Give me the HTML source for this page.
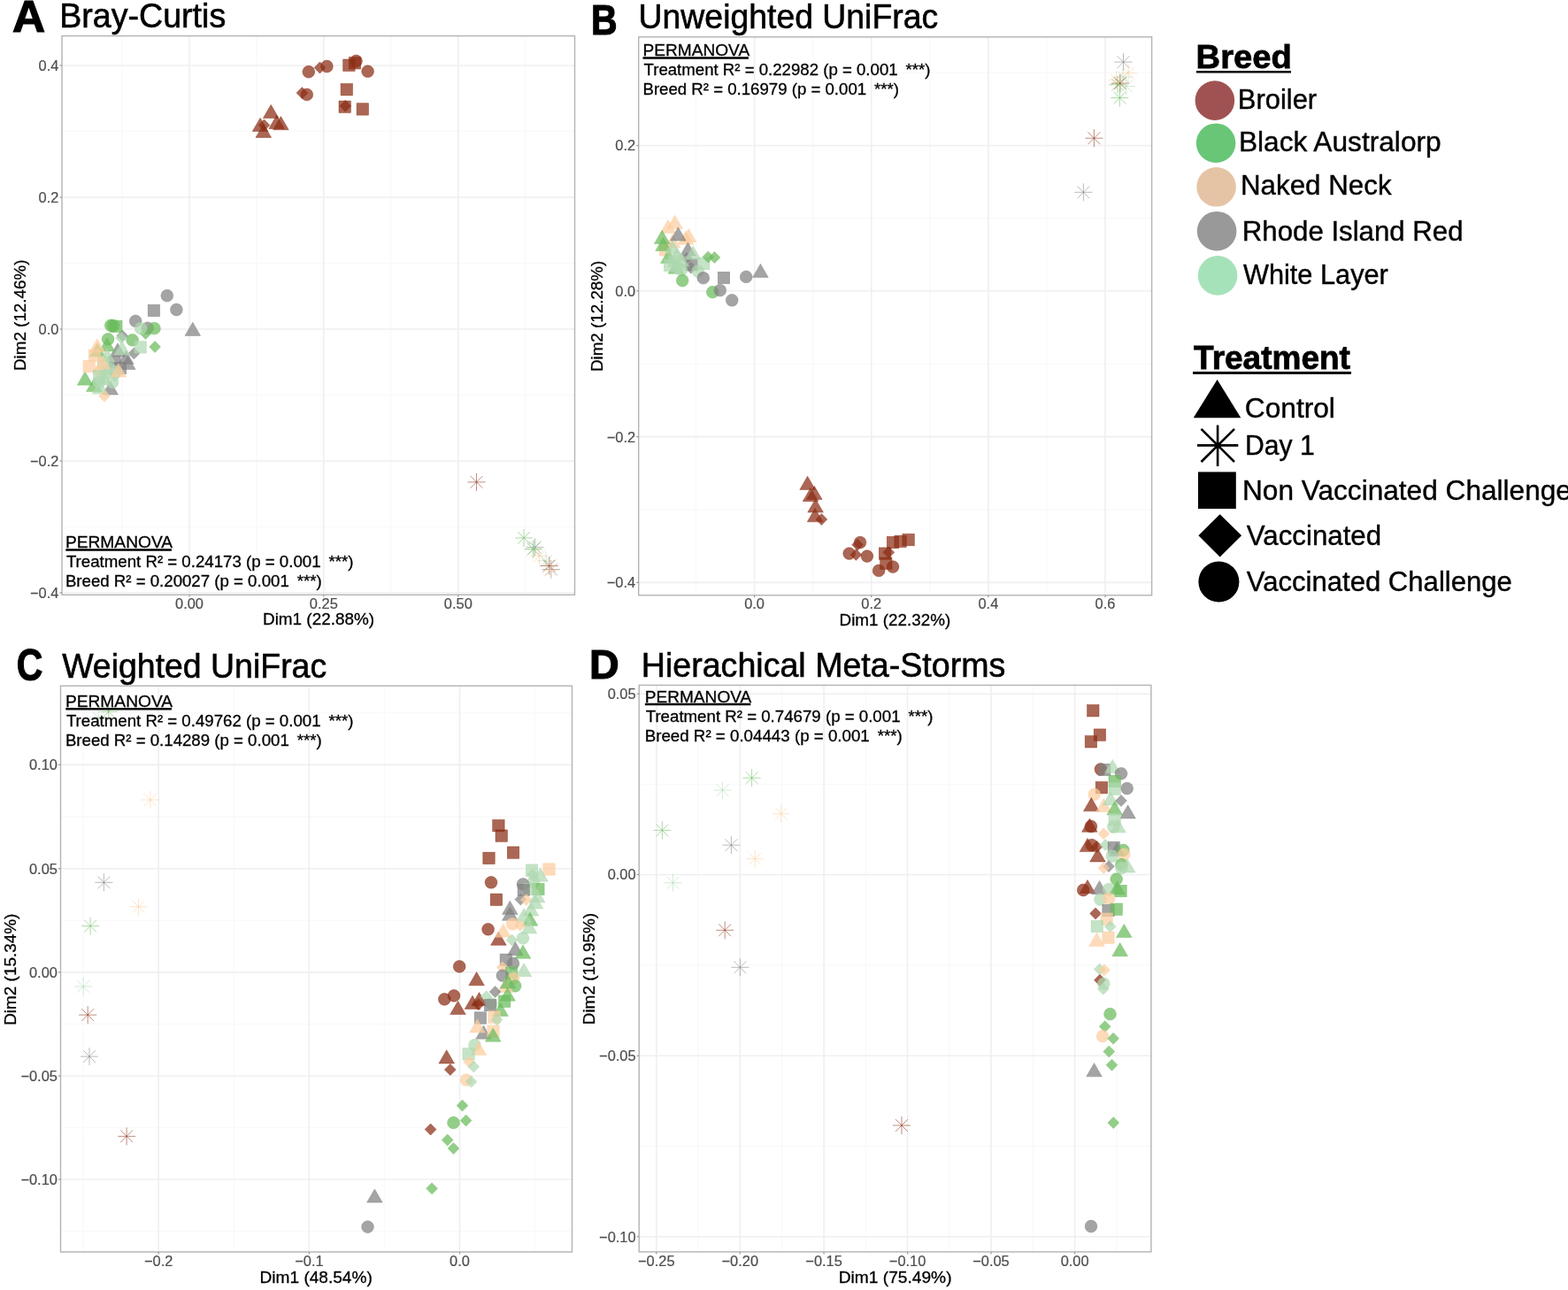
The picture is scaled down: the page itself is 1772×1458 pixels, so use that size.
<!DOCTYPE html><html><head><meta charset="utf-8"><style>html,body{margin:0;padding:0;background:#fff;overflow:hidden}svg{display:block}</style></head><body><svg width="1772" height="1458" viewBox="0 0 1772 1458" font-family="Liberation Sans, Arial, sans-serif">
<rect width="1772" height="1458" fill="#fff"/>
<g>
<line x1="138.1" y1="40.6" x2="138.1" y2="672.3" stroke="#F9F9F9" stroke-width="1.3"/>
<line x1="290" y1="40.6" x2="290" y2="672.3" stroke="#F9F9F9" stroke-width="1.3"/>
<line x1="441.7" y1="40.6" x2="441.7" y2="672.3" stroke="#F9F9F9" stroke-width="1.3"/>
<line x1="593.6" y1="40.6" x2="593.6" y2="672.3" stroke="#F9F9F9" stroke-width="1.3"/>
<line x1="70" y1="148.5" x2="649.5" y2="148.5" stroke="#F9F9F9" stroke-width="1.3"/>
<line x1="70" y1="297.5" x2="649.5" y2="297.5" stroke="#F9F9F9" stroke-width="1.3"/>
<line x1="70" y1="446.5" x2="649.5" y2="446.5" stroke="#F9F9F9" stroke-width="1.3"/>
<line x1="70" y1="595.5" x2="649.5" y2="595.5" stroke="#F9F9F9" stroke-width="1.3"/>
<line x1="214" y1="40.6" x2="214" y2="672.3" stroke="#EFEFEF" stroke-width="1.6"/>
<line x1="365.8" y1="40.6" x2="365.8" y2="672.3" stroke="#EFEFEF" stroke-width="1.6"/>
<line x1="517.8" y1="40.6" x2="517.8" y2="672.3" stroke="#EFEFEF" stroke-width="1.6"/>
<line x1="70" y1="74" x2="649.5" y2="74" stroke="#EFEFEF" stroke-width="1.6"/>
<line x1="70" y1="223" x2="649.5" y2="223" stroke="#EFEFEF" stroke-width="1.6"/>
<line x1="70" y1="372" x2="649.5" y2="372" stroke="#EFEFEF" stroke-width="1.6"/>
<line x1="70" y1="521" x2="649.5" y2="521" stroke="#EFEFEF" stroke-width="1.6"/>
<line x1="70" y1="670" x2="649.5" y2="670" stroke="#EFEFEF" stroke-width="1.6"/>
</g>
<circle cx="348.8" cy="81.2" r="6.9" fill="#8A2D14" fill-opacity="0.72" stroke="#8A2D14" stroke-opacity="0.72" stroke-width="0.6"/>
<circle cx="369.4" cy="75.0" r="6.9" fill="#8A2D14" fill-opacity="0.72" stroke="#8A2D14" stroke-opacity="0.72" stroke-width="0.6"/>
<circle cx="402.5" cy="69.0" r="6.9" fill="#8A2D14" fill-opacity="0.72" stroke="#8A2D14" stroke-opacity="0.72" stroke-width="0.6"/>
<circle cx="415.6" cy="80.7" r="6.9" fill="#8A2D14" fill-opacity="0.72" stroke="#8A2D14" stroke-opacity="0.72" stroke-width="0.6"/>
<circle cx="346.8" cy="106.9" r="6.9" fill="#8A2D14" fill-opacity="0.72" stroke="#8A2D14" stroke-opacity="0.72" stroke-width="0.6"/>
<rect x="387.70" y="67.00" width="13.4" height="13.4" fill="#8A2D14" fill-opacity="0.72" stroke="#8A2D14" stroke-opacity="0.72" stroke-width="0.6"/>
<rect x="394.30" y="64.60" width="13.4" height="13.4" fill="#8A2D14" fill-opacity="0.72" stroke="#8A2D14" stroke-opacity="0.72" stroke-width="0.6"/>
<rect x="385.10" y="94.50" width="13.4" height="13.4" fill="#8A2D14" fill-opacity="0.72" stroke="#8A2D14" stroke-opacity="0.72" stroke-width="0.6"/>
<rect x="383.00" y="114.00" width="13.4" height="13.4" fill="#8A2D14" fill-opacity="0.72" stroke="#8A2D14" stroke-opacity="0.72" stroke-width="0.6"/>
<rect x="403.10" y="116.70" width="13.4" height="13.4" fill="#8A2D14" fill-opacity="0.72" stroke="#8A2D14" stroke-opacity="0.72" stroke-width="0.6"/>
<polygon points="361.50,70.00 367.90,76.50 361.50,83.00 355.10,76.50" fill="#8A2D14" fill-opacity="0.72" stroke="#8A2D14" stroke-opacity="0.72" stroke-width="0.6"/>
<polygon points="341.40,98.60 347.80,105.10 341.40,111.60 335.00,105.10" fill="#8A2D14" fill-opacity="0.72" stroke="#8A2D14" stroke-opacity="0.72" stroke-width="0.6"/>
<polygon points="390.30,113.30 396.70,119.80 390.30,126.30 383.90,119.80" fill="#8A2D14" fill-opacity="0.72" stroke="#8A2D14" stroke-opacity="0.72" stroke-width="0.6"/>
<polygon points="298.50,135.00 304.90,141.50 298.50,148.00 292.10,141.50" fill="#8A2D14" fill-opacity="0.72" stroke="#8A2D14" stroke-opacity="0.72" stroke-width="0.6"/>
<polygon points="306.20,118.30 297.40,133.50 315.00,133.50" fill="#8A2D14" fill-opacity="0.72" stroke="#8A2D14" stroke-opacity="0.72" stroke-width="0.6"/>
<polygon points="294.10,133.20 285.30,148.40 302.90,148.40" fill="#8A2D14" fill-opacity="0.72" stroke="#8A2D14" stroke-opacity="0.72" stroke-width="0.6"/>
<polygon points="297.80,140.20 289.00,155.40 306.60,155.40" fill="#8A2D14" fill-opacity="0.72" stroke="#8A2D14" stroke-opacity="0.72" stroke-width="0.6"/>
<polygon points="317.40,131.50 308.60,146.70 326.20,146.70" fill="#8A2D14" fill-opacity="0.72" stroke="#8A2D14" stroke-opacity="0.72" stroke-width="0.6"/>
<polygon points="312.60,130.30 303.80,145.50 321.40,145.50" fill="#8A2D14" fill-opacity="0.72" stroke="#8A2D14" stroke-opacity="0.72" stroke-width="0.6"/>
<circle cx="188.8" cy="334.2" r="6.9" fill="#818181" fill-opacity="0.72" stroke="#818181" stroke-opacity="0.72" stroke-width="0.6"/>
<circle cx="199.4" cy="350" r="6.9" fill="#818181" fill-opacity="0.72" stroke="#818181" stroke-opacity="0.72" stroke-width="0.6"/>
<rect x="167.20" y="344.30" width="13.4" height="13.4" fill="#818181" fill-opacity="0.72" stroke="#818181" stroke-opacity="0.72" stroke-width="0.6"/>
<circle cx="153.2" cy="362.9" r="6.9" fill="#818181" fill-opacity="0.72" stroke="#818181" stroke-opacity="0.72" stroke-width="0.6"/>
<circle cx="166.8" cy="370.8" r="6.9" fill="#818181" fill-opacity="0.72" stroke="#818181" stroke-opacity="0.72" stroke-width="0.6"/>
<polygon points="217.80,364.20 209.00,379.40 226.60,379.40" fill="#818181" fill-opacity="0.72" stroke="#818181" stroke-opacity="0.72" stroke-width="0.6"/>
<polygon points="151.40,392.90 157.80,399.40 151.40,405.90 145.00,399.40" fill="#818181" fill-opacity="0.72" stroke="#818181" stroke-opacity="0.72" stroke-width="0.6"/>
<polygon points="138.30,373.10 144.70,379.60 138.30,386.10 131.90,379.60" fill="#818181" fill-opacity="0.72" stroke="#818181" stroke-opacity="0.72" stroke-width="0.6"/>
<polygon points="142.40,396.30 133.60,411.50 151.20,411.50" fill="#818181" fill-opacity="0.72" stroke="#818181" stroke-opacity="0.72" stroke-width="0.6"/>
<polygon points="144.30,402.40 135.50,417.60 153.10,417.60" fill="#818181" fill-opacity="0.72" stroke="#818181" stroke-opacity="0.72" stroke-width="0.6"/>
<polygon points="124.70,430.80 115.90,446.00 133.50,446.00" fill="#818181" fill-opacity="0.72" stroke="#818181" stroke-opacity="0.72" stroke-width="0.6"/>
<rect x="122.70" y="402.80" width="13.4" height="13.4" fill="#818181" fill-opacity="0.72" stroke="#818181" stroke-opacity="0.72" stroke-width="0.6"/>
<polygon points="133.00,387.80 124.20,403.00 141.80,403.00" fill="#818181" fill-opacity="0.72" stroke="#818181" stroke-opacity="0.72" stroke-width="0.6"/>
<rect x="129.30" y="409.30" width="13.4" height="13.4" fill="#818181" fill-opacity="0.72" stroke="#818181" stroke-opacity="0.72" stroke-width="0.6"/>
<circle cx="125.2" cy="367.8" r="6.9" fill="#69BB5C" fill-opacity="0.72" stroke="#69BB5C" stroke-opacity="0.72" stroke-width="0.6"/>
<rect x="124.60" y="362.20" width="13.4" height="13.4" fill="#69BB5C" fill-opacity="0.72" stroke="#69BB5C" stroke-opacity="0.72" stroke-width="0.6"/>
<circle cx="128" cy="368" r="6.9" fill="#69BB5C" fill-opacity="0.72" stroke="#69BB5C" stroke-opacity="0.72" stroke-width="0.6"/>
<circle cx="174.5" cy="371.2" r="6.9" fill="#69BB5C" fill-opacity="0.72" stroke="#69BB5C" stroke-opacity="0.72" stroke-width="0.6"/>
<circle cx="149.6" cy="384.3" r="6.9" fill="#69BB5C" fill-opacity="0.72" stroke="#69BB5C" stroke-opacity="0.72" stroke-width="0.6"/>
<polygon points="164.50,370.60 170.90,377.10 164.50,383.60 158.10,377.10" fill="#69BB5C" fill-opacity="0.72" stroke="#69BB5C" stroke-opacity="0.72" stroke-width="0.6"/>
<polygon points="175.10,385.50 181.50,392.00 175.10,398.50 168.70,392.00" fill="#69BB5C" fill-opacity="0.72" stroke="#69BB5C" stroke-opacity="0.72" stroke-width="0.6"/>
<circle cx="122.1" cy="383.4" r="6.9" fill="#69BB5C" fill-opacity="0.72" stroke="#69BB5C" stroke-opacity="0.72" stroke-width="0.6"/>
<polygon points="96.10,420.00 87.30,435.20 104.90,435.20" fill="#69BB5C" fill-opacity="0.72" stroke="#69BB5C" stroke-opacity="0.72" stroke-width="0.6"/>
<polygon points="106.30,427.40 97.50,442.60 115.10,442.60" fill="#69BB5C" fill-opacity="0.72" stroke="#69BB5C" stroke-opacity="0.72" stroke-width="0.6"/>
<polygon points="110.00,387.80 101.20,403.00 118.80,403.00" fill="#69BB5C" fill-opacity="0.72" stroke="#69BB5C" stroke-opacity="0.72" stroke-width="0.6"/>
<polygon points="121.00,381.80 112.20,397.00 129.80,397.00" fill="#69BB5C" fill-opacity="0.72" stroke="#69BB5C" stroke-opacity="0.72" stroke-width="0.6"/>
<circle cx="159.1" cy="371.2" r="6.9" fill="#AED8B0" fill-opacity="0.72" stroke="#AED8B0" stroke-opacity="0.72" stroke-width="0.6"/>
<rect x="152.00" y="385.70" width="13.4" height="13.4" fill="#AED8B0" fill-opacity="0.72" stroke="#AED8B0" stroke-opacity="0.72" stroke-width="0.6"/>
<polygon points="137.00,375.50 143.40,382.00 137.00,388.50 130.60,382.00" fill="#AED8B0" fill-opacity="0.72" stroke="#AED8B0" stroke-opacity="0.72" stroke-width="0.6"/>
<circle cx="119.6" cy="421.2" r="6.9" fill="#AED8B0" fill-opacity="0.72" stroke="#AED8B0" stroke-opacity="0.72" stroke-width="0.6"/>
<circle cx="124" cy="417" r="6.9" fill="#AED8B0" fill-opacity="0.72" stroke="#AED8B0" stroke-opacity="0.72" stroke-width="0.6"/>
<polygon points="118.00,419.80 109.20,435.00 126.80,435.00" fill="#AED8B0" fill-opacity="0.72" stroke="#AED8B0" stroke-opacity="0.72" stroke-width="0.6"/>
<polygon points="113.00,429.80 104.20,445.00 121.80,445.00" fill="#AED8B0" fill-opacity="0.72" stroke="#AED8B0" stroke-opacity="0.72" stroke-width="0.6"/>
<rect x="110.30" y="403.30" width="13.4" height="13.4" fill="#AED8B0" fill-opacity="0.72" stroke="#AED8B0" stroke-opacity="0.72" stroke-width="0.6"/>
<polygon points="130.00,418.50 136.40,425.00 130.00,431.50 123.60,425.00" fill="#AED8B0" fill-opacity="0.72" stroke="#AED8B0" stroke-opacity="0.72" stroke-width="0.6"/>
<circle cx="112" cy="432" r="6.9" fill="#AED8B0" fill-opacity="0.72" stroke="#AED8B0" stroke-opacity="0.72" stroke-width="0.6"/>
<polygon points="121.00,393.80 112.20,409.00 129.80,409.00" fill="#AED8B0" fill-opacity="0.72" stroke="#AED8B0" stroke-opacity="0.72" stroke-width="0.6"/>
<polygon points="138.00,385.80 129.20,401.00 146.80,401.00" fill="#AED8B0" fill-opacity="0.72" stroke="#AED8B0" stroke-opacity="0.72" stroke-width="0.6"/>
<circle cx="127" cy="432" r="6.9" fill="#AED8B0" fill-opacity="0.72" stroke="#AED8B0" stroke-opacity="0.72" stroke-width="0.6"/>
<polygon points="118.00,441.20 124.40,447.70 118.00,454.20 111.60,447.70" fill="#FCCD9F" fill-opacity="0.72" stroke="#FCCD9F" stroke-opacity="0.72" stroke-width="0.6"/>
<rect x="94.00" y="407.40" width="13.4" height="13.4" fill="#FCCD9F" fill-opacity="0.72" stroke="#FCCD9F" stroke-opacity="0.72" stroke-width="0.6"/>
<rect x="100.20" y="395.00" width="13.4" height="13.4" fill="#FCCD9F" fill-opacity="0.72" stroke="#FCCD9F" stroke-opacity="0.72" stroke-width="0.6"/>
<polygon points="110.00,382.80 101.20,398.00 118.80,398.00" fill="#FCCD9F" fill-opacity="0.72" stroke="#FCCD9F" stroke-opacity="0.72" stroke-width="0.6"/>
<polygon points="116.00,401.80 107.20,417.00 124.80,417.00" fill="#FCCD9F" fill-opacity="0.72" stroke="#FCCD9F" stroke-opacity="0.72" stroke-width="0.6"/>
<circle cx="131" cy="420" r="6.9" fill="#AED8B0" fill-opacity="0.72" stroke="#AED8B0" stroke-opacity="0.72" stroke-width="0.6"/>
<polygon points="111.00,413.50 117.40,420.00 111.00,426.50 104.60,420.00" fill="#FCCD9F" fill-opacity="0.72" stroke="#FCCD9F" stroke-opacity="0.72" stroke-width="0.6"/>
<polygon points="134.00,410.80 125.20,426.00 142.80,426.00" fill="#FCCD9F" fill-opacity="0.72" stroke="#FCCD9F" stroke-opacity="0.72" stroke-width="0.6"/>
<rect x="105.30" y="418.30" width="13.4" height="13.4" fill="#AED8B0" fill-opacity="0.72" stroke="#AED8B0" stroke-opacity="0.72" stroke-width="0.6"/>
<line x1="538.5" y1="534.9" x2="538.5" y2="554.9" stroke="#8A2D14" stroke-opacity="0.55" stroke-width="1.0"/>
<line x1="528.5" y1="544.9" x2="548.5" y2="544.9" stroke="#8A2D14" stroke-opacity="0.55" stroke-width="1.0"/>
<line x1="531.6" y1="538.0" x2="545.4" y2="551.8" stroke="#8A2D14" stroke-opacity="0.55" stroke-width="1.0"/>
<line x1="531.6" y1="551.8" x2="545.4" y2="538.0" stroke="#8A2D14" stroke-opacity="0.55" stroke-width="1.0"/>
<line x1="592.0" y1="598.0" x2="592.0" y2="618.0" stroke="#69BB5C" stroke-opacity="0.55" stroke-width="1.0"/>
<line x1="582.0" y1="608.0" x2="602.0" y2="608.0" stroke="#69BB5C" stroke-opacity="0.55" stroke-width="1.0"/>
<line x1="585.1" y1="601.1" x2="598.9" y2="614.9" stroke="#69BB5C" stroke-opacity="0.55" stroke-width="1.0"/>
<line x1="585.1" y1="614.9" x2="598.9" y2="601.1" stroke="#69BB5C" stroke-opacity="0.55" stroke-width="1.0"/>
<line x1="604.5" y1="608.6" x2="604.5" y2="628.6" stroke="#818181" stroke-opacity="0.55" stroke-width="1.0"/>
<line x1="594.5" y1="618.6" x2="614.5" y2="618.6" stroke="#818181" stroke-opacity="0.55" stroke-width="1.0"/>
<line x1="597.6" y1="611.7" x2="611.4" y2="625.5" stroke="#818181" stroke-opacity="0.55" stroke-width="1.0"/>
<line x1="597.6" y1="625.5" x2="611.4" y2="611.7" stroke="#818181" stroke-opacity="0.55" stroke-width="1.0"/>
<line x1="603.0" y1="610.4" x2="603.0" y2="630.4" stroke="#AED8B0" stroke-opacity="0.55" stroke-width="1.0"/>
<line x1="593.0" y1="620.4" x2="613.0" y2="620.4" stroke="#AED8B0" stroke-opacity="0.55" stroke-width="1.0"/>
<line x1="596.1" y1="613.5" x2="609.9" y2="627.3" stroke="#AED8B0" stroke-opacity="0.55" stroke-width="1.0"/>
<line x1="596.1" y1="627.3" x2="609.9" y2="613.5" stroke="#AED8B0" stroke-opacity="0.55" stroke-width="1.0"/>
<line x1="602.5" y1="610.8" x2="602.5" y2="630.8" stroke="#69BB5C" stroke-opacity="0.55" stroke-width="1.0"/>
<line x1="592.5" y1="620.8" x2="612.5" y2="620.8" stroke="#69BB5C" stroke-opacity="0.55" stroke-width="1.0"/>
<line x1="595.6" y1="613.9" x2="609.4" y2="627.7" stroke="#69BB5C" stroke-opacity="0.55" stroke-width="1.0"/>
<line x1="595.6" y1="627.7" x2="609.4" y2="613.9" stroke="#69BB5C" stroke-opacity="0.55" stroke-width="1.0"/>
<line x1="609.5" y1="618.5" x2="609.5" y2="638.5" stroke="#FCCD9F" stroke-opacity="0.55" stroke-width="1.0"/>
<line x1="599.5" y1="628.5" x2="619.5" y2="628.5" stroke="#FCCD9F" stroke-opacity="0.55" stroke-width="1.0"/>
<line x1="602.6" y1="621.6" x2="616.4" y2="635.4" stroke="#FCCD9F" stroke-opacity="0.55" stroke-width="1.0"/>
<line x1="602.6" y1="635.4" x2="616.4" y2="621.6" stroke="#FCCD9F" stroke-opacity="0.55" stroke-width="1.0"/>
<line x1="617.0" y1="624.0" x2="617.0" y2="644.0" stroke="#AED8B0" stroke-opacity="0.55" stroke-width="1.0"/>
<line x1="607.0" y1="634.0" x2="627.0" y2="634.0" stroke="#AED8B0" stroke-opacity="0.55" stroke-width="1.0"/>
<line x1="610.1" y1="627.1" x2="623.9" y2="640.9" stroke="#AED8B0" stroke-opacity="0.55" stroke-width="1.0"/>
<line x1="610.1" y1="640.9" x2="623.9" y2="627.1" stroke="#AED8B0" stroke-opacity="0.55" stroke-width="1.0"/>
<line x1="620.8" y1="629.5" x2="620.8" y2="649.5" stroke="#8A2D14" stroke-opacity="0.55" stroke-width="1.0"/>
<line x1="610.8" y1="639.5" x2="630.8" y2="639.5" stroke="#8A2D14" stroke-opacity="0.55" stroke-width="1.0"/>
<line x1="613.9" y1="632.6" x2="627.7" y2="646.4" stroke="#8A2D14" stroke-opacity="0.55" stroke-width="1.0"/>
<line x1="613.9" y1="646.4" x2="627.7" y2="632.6" stroke="#8A2D14" stroke-opacity="0.55" stroke-width="1.0"/>
<line x1="622.9" y1="633.5" x2="622.9" y2="653.5" stroke="#818181" stroke-opacity="0.55" stroke-width="1.0"/>
<line x1="612.9" y1="643.5" x2="632.9" y2="643.5" stroke="#818181" stroke-opacity="0.55" stroke-width="1.0"/>
<line x1="616.0" y1="636.6" x2="629.8" y2="650.4" stroke="#818181" stroke-opacity="0.55" stroke-width="1.0"/>
<line x1="616.0" y1="650.4" x2="629.8" y2="636.6" stroke="#818181" stroke-opacity="0.55" stroke-width="1.0"/>
<line x1="622.0" y1="634.5" x2="622.0" y2="654.5" stroke="#FCCD9F" stroke-opacity="0.55" stroke-width="1.0"/>
<line x1="612.0" y1="644.5" x2="632.0" y2="644.5" stroke="#FCCD9F" stroke-opacity="0.55" stroke-width="1.0"/>
<line x1="615.1" y1="637.6" x2="628.9" y2="651.4" stroke="#FCCD9F" stroke-opacity="0.55" stroke-width="1.0"/>
<line x1="615.1" y1="651.4" x2="628.9" y2="637.6" stroke="#FCCD9F" stroke-opacity="0.55" stroke-width="1.0"/>
<rect x="70" y="40.6" width="579.50" height="631.70" fill="none" stroke="#B3B3B3" stroke-width="1.4"/>
<line x1="214" y1="672.3" x2="214" y2="674.8" stroke="#999999" stroke-width="1.2"/>
<text x="214.00" y="687.90" font-size="16.4" font-weight="normal" fill="#4D4D4D" text-anchor="middle" stroke="#4D4D4D" stroke-width="0.2">0.00</text>
<line x1="365.8" y1="672.3" x2="365.8" y2="674.8" stroke="#999999" stroke-width="1.2"/>
<text x="365.80" y="687.90" font-size="16.4" font-weight="normal" fill="#4D4D4D" text-anchor="middle" stroke="#4D4D4D" stroke-width="0.2">0.25</text>
<line x1="517.8" y1="672.3" x2="517.8" y2="674.8" stroke="#999999" stroke-width="1.2"/>
<text x="517.80" y="687.90" font-size="16.4" font-weight="normal" fill="#4D4D4D" text-anchor="middle" stroke="#4D4D4D" stroke-width="0.2">0.50</text>
<line x1="67.5" y1="74" x2="70" y2="74" stroke="#999999" stroke-width="1.2"/>
<text x="66.40" y="79.90" font-size="16.4" font-weight="normal" fill="#4D4D4D" text-anchor="end" stroke="#4D4D4D" stroke-width="0.2">0.4</text>
<line x1="67.5" y1="223" x2="70" y2="223" stroke="#999999" stroke-width="1.2"/>
<text x="66.40" y="228.90" font-size="16.4" font-weight="normal" fill="#4D4D4D" text-anchor="end" stroke="#4D4D4D" stroke-width="0.2">0.2</text>
<line x1="67.5" y1="372" x2="70" y2="372" stroke="#999999" stroke-width="1.2"/>
<text x="66.40" y="377.90" font-size="16.4" font-weight="normal" fill="#4D4D4D" text-anchor="end" stroke="#4D4D4D" stroke-width="0.2">0.0</text>
<line x1="67.5" y1="521" x2="70" y2="521" stroke="#999999" stroke-width="1.2"/>
<text x="66.40" y="526.90" font-size="16.4" font-weight="normal" fill="#4D4D4D" text-anchor="end" stroke="#4D4D4D" stroke-width="0.2">−0.2</text>
<line x1="67.5" y1="670" x2="70" y2="670" stroke="#999999" stroke-width="1.2"/>
<text x="66.40" y="675.90" font-size="16.4" font-weight="normal" fill="#4D4D4D" text-anchor="end" stroke="#4D4D4D" stroke-width="0.2">−0.4</text>
<text x="297.00" y="706.20" font-size="19" font-weight="normal" fill="#000" stroke="#000" stroke-width="0.3" textLength="126.07" lengthAdjust="spacingAndGlyphs" >Dim1 (22.88%)</text>
<g transform="rotate(-90)">
<text x="-419.10" y="29.10" font-size="19" font-weight="normal" fill="#000" stroke="#000" stroke-width="0.3" textLength="125.67" lengthAdjust="spacingAndGlyphs" >Dim2 (12.46%)</text>
</g>
<g>
<line x1="786.5" y1="41.8" x2="786.5" y2="672.8" stroke="#F9F9F9" stroke-width="1.3"/>
<line x1="918.7" y1="41.8" x2="918.7" y2="672.8" stroke="#F9F9F9" stroke-width="1.3"/>
<line x1="1050.8" y1="41.8" x2="1050.8" y2="672.8" stroke="#F9F9F9" stroke-width="1.3"/>
<line x1="1183" y1="41.8" x2="1183" y2="672.8" stroke="#F9F9F9" stroke-width="1.3"/>
<line x1="721.7" y1="82.2" x2="1301.6" y2="82.2" stroke="#F9F9F9" stroke-width="1.3"/>
<line x1="721.7" y1="246.7" x2="1301.6" y2="246.7" stroke="#F9F9F9" stroke-width="1.3"/>
<line x1="721.7" y1="411.2" x2="1301.6" y2="411.2" stroke="#F9F9F9" stroke-width="1.3"/>
<line x1="721.7" y1="576" x2="1301.6" y2="576" stroke="#F9F9F9" stroke-width="1.3"/>
<line x1="852.6" y1="41.8" x2="852.6" y2="672.8" stroke="#EFEFEF" stroke-width="1.6"/>
<line x1="984.7" y1="41.8" x2="984.7" y2="672.8" stroke="#EFEFEF" stroke-width="1.6"/>
<line x1="1116.9" y1="41.8" x2="1116.9" y2="672.8" stroke="#EFEFEF" stroke-width="1.6"/>
<line x1="1249" y1="41.8" x2="1249" y2="672.8" stroke="#EFEFEF" stroke-width="1.6"/>
<line x1="721.7" y1="164.5" x2="1301.6" y2="164.5" stroke="#EFEFEF" stroke-width="1.6"/>
<line x1="721.7" y1="328.8" x2="1301.6" y2="328.8" stroke="#EFEFEF" stroke-width="1.6"/>
<line x1="721.7" y1="493.6" x2="1301.6" y2="493.6" stroke="#EFEFEF" stroke-width="1.6"/>
<line x1="721.7" y1="658.4" x2="1301.6" y2="658.4" stroke="#EFEFEF" stroke-width="1.6"/>
</g>
<line x1="1269.5" y1="60.1" x2="1269.5" y2="80.1" stroke="#818181" stroke-opacity="0.55" stroke-width="1.0"/>
<line x1="1259.5" y1="70.1" x2="1279.5" y2="70.1" stroke="#818181" stroke-opacity="0.55" stroke-width="1.0"/>
<line x1="1262.6" y1="63.2" x2="1276.4" y2="77.0" stroke="#818181" stroke-opacity="0.55" stroke-width="1.0"/>
<line x1="1262.6" y1="77.0" x2="1276.4" y2="63.2" stroke="#818181" stroke-opacity="0.55" stroke-width="1.0"/>
<line x1="1275.1" y1="72.7" x2="1275.1" y2="92.7" stroke="#FCCD9F" stroke-opacity="0.55" stroke-width="1.0"/>
<line x1="1265.1" y1="82.7" x2="1285.1" y2="82.7" stroke="#FCCD9F" stroke-opacity="0.55" stroke-width="1.0"/>
<line x1="1268.2" y1="75.8" x2="1282.0" y2="89.6" stroke="#FCCD9F" stroke-opacity="0.55" stroke-width="1.0"/>
<line x1="1268.2" y1="89.6" x2="1282.0" y2="75.8" stroke="#FCCD9F" stroke-opacity="0.55" stroke-width="1.0"/>
<line x1="1269.1" y1="77.0" x2="1269.1" y2="97.0" stroke="#AED8B0" stroke-opacity="0.55" stroke-width="1.0"/>
<line x1="1259.1" y1="87.0" x2="1279.1" y2="87.0" stroke="#AED8B0" stroke-opacity="0.55" stroke-width="1.0"/>
<line x1="1262.2" y1="80.1" x2="1276.0" y2="93.9" stroke="#AED8B0" stroke-opacity="0.55" stroke-width="1.0"/>
<line x1="1262.2" y1="93.9" x2="1276.0" y2="80.1" stroke="#AED8B0" stroke-opacity="0.55" stroke-width="1.0"/>
<line x1="1261.7" y1="80.7" x2="1261.7" y2="100.7" stroke="#FCCD9F" stroke-opacity="0.55" stroke-width="1.0"/>
<line x1="1251.7" y1="90.7" x2="1271.7" y2="90.7" stroke="#FCCD9F" stroke-opacity="0.55" stroke-width="1.0"/>
<line x1="1254.8" y1="83.8" x2="1268.6" y2="97.6" stroke="#FCCD9F" stroke-opacity="0.55" stroke-width="1.0"/>
<line x1="1254.8" y1="97.6" x2="1268.6" y2="83.8" stroke="#FCCD9F" stroke-opacity="0.55" stroke-width="1.0"/>
<line x1="1265.8" y1="84.1" x2="1265.8" y2="104.1" stroke="#8A2D14" stroke-opacity="0.55" stroke-width="1.0"/>
<line x1="1255.8" y1="94.1" x2="1275.8" y2="94.1" stroke="#8A2D14" stroke-opacity="0.55" stroke-width="1.0"/>
<line x1="1258.9" y1="87.2" x2="1272.7" y2="101.0" stroke="#8A2D14" stroke-opacity="0.55" stroke-width="1.0"/>
<line x1="1258.9" y1="101.0" x2="1272.7" y2="87.2" stroke="#8A2D14" stroke-opacity="0.55" stroke-width="1.0"/>
<line x1="1263.0" y1="85.7" x2="1263.0" y2="105.7" stroke="#69BB5C" stroke-opacity="0.55" stroke-width="1.0"/>
<line x1="1253.0" y1="95.7" x2="1273.0" y2="95.7" stroke="#69BB5C" stroke-opacity="0.55" stroke-width="1.0"/>
<line x1="1256.1" y1="88.8" x2="1269.9" y2="102.6" stroke="#69BB5C" stroke-opacity="0.55" stroke-width="1.0"/>
<line x1="1256.1" y1="102.6" x2="1269.9" y2="88.8" stroke="#69BB5C" stroke-opacity="0.55" stroke-width="1.0"/>
<line x1="1272.8" y1="87.5" x2="1272.8" y2="107.5" stroke="#AED8B0" stroke-opacity="0.55" stroke-width="1.0"/>
<line x1="1262.8" y1="97.5" x2="1282.8" y2="97.5" stroke="#AED8B0" stroke-opacity="0.55" stroke-width="1.0"/>
<line x1="1265.9" y1="90.6" x2="1279.7" y2="104.4" stroke="#AED8B0" stroke-opacity="0.55" stroke-width="1.0"/>
<line x1="1265.9" y1="104.4" x2="1279.7" y2="90.6" stroke="#AED8B0" stroke-opacity="0.55" stroke-width="1.0"/>
<line x1="1265.4" y1="100.5" x2="1265.4" y2="120.5" stroke="#69BB5C" stroke-opacity="0.55" stroke-width="1.0"/>
<line x1="1255.4" y1="110.5" x2="1275.4" y2="110.5" stroke="#69BB5C" stroke-opacity="0.55" stroke-width="1.0"/>
<line x1="1258.5" y1="103.6" x2="1272.3" y2="117.4" stroke="#69BB5C" stroke-opacity="0.55" stroke-width="1.0"/>
<line x1="1258.5" y1="117.4" x2="1272.3" y2="103.6" stroke="#69BB5C" stroke-opacity="0.55" stroke-width="1.0"/>
<line x1="1236.4" y1="146.2" x2="1236.4" y2="166.2" stroke="#8A2D14" stroke-opacity="0.55" stroke-width="1.0"/>
<line x1="1226.4" y1="156.2" x2="1246.4" y2="156.2" stroke="#8A2D14" stroke-opacity="0.55" stroke-width="1.0"/>
<line x1="1229.5" y1="149.3" x2="1243.3" y2="163.1" stroke="#8A2D14" stroke-opacity="0.55" stroke-width="1.0"/>
<line x1="1229.5" y1="163.1" x2="1243.3" y2="149.3" stroke="#8A2D14" stroke-opacity="0.55" stroke-width="1.0"/>
<line x1="1224.4" y1="207.3" x2="1224.4" y2="227.3" stroke="#818181" stroke-opacity="0.55" stroke-width="1.0"/>
<line x1="1214.4" y1="217.3" x2="1234.4" y2="217.3" stroke="#818181" stroke-opacity="0.55" stroke-width="1.0"/>
<line x1="1217.5" y1="210.4" x2="1231.3" y2="224.2" stroke="#818181" stroke-opacity="0.55" stroke-width="1.0"/>
<line x1="1217.5" y1="224.2" x2="1231.3" y2="210.4" stroke="#818181" stroke-opacity="0.55" stroke-width="1.0"/>
<polygon points="762.60,243.30 753.80,258.50 771.40,258.50" fill="#FCCD9F" fill-opacity="0.72" stroke="#FCCD9F" stroke-opacity="0.72" stroke-width="0.6"/>
<polygon points="755.00,248.40 746.20,263.60 763.80,263.60" fill="#FCCD9F" fill-opacity="0.72" stroke="#FCCD9F" stroke-opacity="0.72" stroke-width="0.6"/>
<polygon points="778.30,258.50 769.50,273.70 787.10,273.70" fill="#FCCD9F" fill-opacity="0.72" stroke="#FCCD9F" stroke-opacity="0.72" stroke-width="0.6"/>
<polygon points="774.90,261.10 766.10,276.30 783.70,276.30" fill="#FCCD9F" fill-opacity="0.72" stroke="#FCCD9F" stroke-opacity="0.72" stroke-width="0.6"/>
<rect x="745.30" y="275.70" width="13.4" height="13.4" fill="#FCCD9F" fill-opacity="0.72" stroke="#FCCD9F" stroke-opacity="0.72" stroke-width="0.6"/>
<polygon points="760.00,264.80 751.20,280.00 768.80,280.00" fill="#FCCD9F" fill-opacity="0.72" stroke="#FCCD9F" stroke-opacity="0.72" stroke-width="0.6"/>
<polygon points="766.40,256.80 757.60,272.00 775.20,272.00" fill="#818181" fill-opacity="0.72" stroke="#818181" stroke-opacity="0.72" stroke-width="0.6"/>
<polygon points="777.40,273.90 768.60,289.10 786.20,289.10" fill="#818181" fill-opacity="0.72" stroke="#818181" stroke-opacity="0.72" stroke-width="0.6"/>
<rect x="774.90" y="292.60" width="13.4" height="13.4" fill="#818181" fill-opacity="0.72" stroke="#818181" stroke-opacity="0.72" stroke-width="0.6"/>
<polygon points="780.80,296.20 787.20,302.70 780.80,309.20 774.40,302.70" fill="#818181" fill-opacity="0.72" stroke="#818181" stroke-opacity="0.72" stroke-width="0.6"/>
<polygon points="776.00,285.50 782.40,292.00 776.00,298.50 769.60,292.00" fill="#818181" fill-opacity="0.72" stroke="#818181" stroke-opacity="0.72" stroke-width="0.6"/>
<polygon points="748.20,260.20 739.40,275.40 757.00,275.40" fill="#69BB5C" fill-opacity="0.72" stroke="#69BB5C" stroke-opacity="0.72" stroke-width="0.6"/>
<polygon points="749.50,268.30 740.70,283.50 758.30,283.50" fill="#69BB5C" fill-opacity="0.72" stroke="#69BB5C" stroke-opacity="0.72" stroke-width="0.6"/>
<polygon points="755.40,282.20 746.60,297.40 764.20,297.40" fill="#69BB5C" fill-opacity="0.72" stroke="#69BB5C" stroke-opacity="0.72" stroke-width="0.6"/>
<polygon points="763.90,294.10 755.10,309.30 772.70,309.30" fill="#69BB5C" fill-opacity="0.72" stroke="#69BB5C" stroke-opacity="0.72" stroke-width="0.6"/>
<polygon points="760.00,271.80 751.20,287.00 768.80,287.00" fill="#AED8B0" fill-opacity="0.72" stroke="#AED8B0" stroke-opacity="0.72" stroke-width="0.6"/>
<polygon points="765.00,279.80 756.20,295.00 773.80,295.00" fill="#AED8B0" fill-opacity="0.72" stroke="#AED8B0" stroke-opacity="0.72" stroke-width="0.6"/>
<circle cx="765.6" cy="302.7" r="6.9" fill="#AED8B0" fill-opacity="0.72" stroke="#AED8B0" stroke-opacity="0.72" stroke-width="0.6"/>
<polygon points="768.10,294.50 774.50,301.00 768.10,307.50 761.70,301.00" fill="#AED8B0" fill-opacity="0.72" stroke="#AED8B0" stroke-opacity="0.72" stroke-width="0.6"/>
<rect x="755.30" y="288.30" width="13.4" height="13.4" fill="#AED8B0" fill-opacity="0.72" stroke="#AED8B0" stroke-opacity="0.72" stroke-width="0.6"/>
<polygon points="770.00,285.80 761.20,301.00 778.80,301.00" fill="#AED8B0" fill-opacity="0.72" stroke="#AED8B0" stroke-opacity="0.72" stroke-width="0.6"/>
<polygon points="783.30,278.00 774.50,293.20 792.10,293.20" fill="#AED8B0" fill-opacity="0.72" stroke="#AED8B0" stroke-opacity="0.72" stroke-width="0.6"/>
<rect x="788.50" y="291.40" width="13.4" height="13.4" fill="#AED8B0" fill-opacity="0.72" stroke="#AED8B0" stroke-opacity="0.72" stroke-width="0.6"/>
<circle cx="788.8" cy="306.5" r="6.9" fill="#AED8B0" fill-opacity="0.72" stroke="#AED8B0" stroke-opacity="0.72" stroke-width="0.6"/>
<rect x="750.30" y="293.30" width="13.4" height="13.4" fill="#AED8B0" fill-opacity="0.72" stroke="#AED8B0" stroke-opacity="0.72" stroke-width="0.6"/>
<circle cx="770" cy="305" r="6.9" fill="#AED8B0" fill-opacity="0.72" stroke="#AED8B0" stroke-opacity="0.72" stroke-width="0.6"/>
<polygon points="800.30,283.90 806.70,290.40 800.30,296.90 793.90,290.40" fill="#69BB5C" fill-opacity="0.72" stroke="#69BB5C" stroke-opacity="0.72" stroke-width="0.6"/>
<polygon points="807.50,284.40 813.90,290.90 807.50,297.40 801.10,290.90" fill="#69BB5C" fill-opacity="0.72" stroke="#69BB5C" stroke-opacity="0.72" stroke-width="0.6"/>
<circle cx="771.2" cy="317.1" r="6.9" fill="#69BB5C" fill-opacity="0.72" stroke="#69BB5C" stroke-opacity="0.72" stroke-width="0.6"/>
<circle cx="805.3" cy="330.2" r="6.9" fill="#69BB5C" fill-opacity="0.72" stroke="#69BB5C" stroke-opacity="0.72" stroke-width="0.6"/>
<polygon points="859.40,298.30 850.60,313.50 868.20,313.50" fill="#818181" fill-opacity="0.72" stroke="#818181" stroke-opacity="0.72" stroke-width="0.6"/>
<circle cx="843.2" cy="312.9" r="6.9" fill="#818181" fill-opacity="0.72" stroke="#818181" stroke-opacity="0.72" stroke-width="0.6"/>
<rect x="811.30" y="307.30" width="13.4" height="13.4" fill="#818181" fill-opacity="0.72" stroke="#818181" stroke-opacity="0.72" stroke-width="0.6"/>
<circle cx="794.8" cy="314.2" r="6.9" fill="#818181" fill-opacity="0.72" stroke="#818181" stroke-opacity="0.72" stroke-width="0.6"/>
<circle cx="813.8" cy="328.1" r="6.9" fill="#818181" fill-opacity="0.72" stroke="#818181" stroke-opacity="0.72" stroke-width="0.6"/>
<circle cx="827.2" cy="339.3" r="6.9" fill="#818181" fill-opacity="0.72" stroke="#818181" stroke-opacity="0.72" stroke-width="0.6"/>
<polygon points="912.60,538.20 903.80,553.40 921.40,553.40" fill="#8A2D14" fill-opacity="0.72" stroke="#8A2D14" stroke-opacity="0.72" stroke-width="0.6"/>
<polygon points="920.30,549.30 911.50,564.50 929.10,564.50" fill="#8A2D14" fill-opacity="0.72" stroke="#8A2D14" stroke-opacity="0.72" stroke-width="0.6"/>
<polygon points="916.00,551.50 907.20,566.70 924.80,566.70" fill="#8A2D14" fill-opacity="0.72" stroke="#8A2D14" stroke-opacity="0.72" stroke-width="0.6"/>
<polygon points="921.60,563.90 912.80,579.10 930.40,579.10" fill="#8A2D14" fill-opacity="0.72" stroke="#8A2D14" stroke-opacity="0.72" stroke-width="0.6"/>
<polygon points="921.10,574.60 912.30,589.80 929.90,589.80" fill="#8A2D14" fill-opacity="0.72" stroke="#8A2D14" stroke-opacity="0.72" stroke-width="0.6"/>
<polygon points="928.40,580.50 934.80,587.00 928.40,593.50 922.00,587.00" fill="#8A2D14" fill-opacity="0.72" stroke="#8A2D14" stroke-opacity="0.72" stroke-width="0.6"/>
<polygon points="967.40,620.40 973.80,626.90 967.40,633.40 961.00,626.90" fill="#8A2D14" fill-opacity="0.72" stroke="#8A2D14" stroke-opacity="0.72" stroke-width="0.6"/>
<polygon points="969.10,609.20 975.50,615.70 969.10,622.20 962.70,615.70" fill="#8A2D14" fill-opacity="0.72" stroke="#8A2D14" stroke-opacity="0.72" stroke-width="0.6"/>
<polygon points="1004.30,617.80 1010.70,624.30 1004.30,630.80 997.90,624.30" fill="#8A2D14" fill-opacity="0.72" stroke="#8A2D14" stroke-opacity="0.72" stroke-width="0.6"/>
<circle cx="972" cy="613.1" r="6.9" fill="#8A2D14" fill-opacity="0.72" stroke="#8A2D14" stroke-opacity="0.72" stroke-width="0.6"/>
<circle cx="959.7" cy="625.6" r="6.9" fill="#8A2D14" fill-opacity="0.72" stroke="#8A2D14" stroke-opacity="0.72" stroke-width="0.6"/>
<circle cx="979.9" cy="628.6" r="6.9" fill="#8A2D14" fill-opacity="0.72" stroke="#8A2D14" stroke-opacity="0.72" stroke-width="0.6"/>
<circle cx="993.1" cy="644.9" r="6.9" fill="#8A2D14" fill-opacity="0.72" stroke="#8A2D14" stroke-opacity="0.72" stroke-width="0.6"/>
<circle cx="1009" cy="640.6" r="6.9" fill="#8A2D14" fill-opacity="0.72" stroke="#8A2D14" stroke-opacity="0.72" stroke-width="0.6"/>
<rect x="993.30" y="618.90" width="13.4" height="13.4" fill="#8A2D14" fill-opacity="0.72" stroke="#8A2D14" stroke-opacity="0.72" stroke-width="0.6"/>
<rect x="1002.30" y="606.40" width="13.4" height="13.4" fill="#8A2D14" fill-opacity="0.72" stroke="#8A2D14" stroke-opacity="0.72" stroke-width="0.6"/>
<rect x="1010.90" y="605.20" width="13.4" height="13.4" fill="#8A2D14" fill-opacity="0.72" stroke="#8A2D14" stroke-opacity="0.72" stroke-width="0.6"/>
<rect x="1019.90" y="603.40" width="13.4" height="13.4" fill="#8A2D14" fill-opacity="0.72" stroke="#8A2D14" stroke-opacity="0.72" stroke-width="0.6"/>
<rect x="994.60" y="630.00" width="13.4" height="13.4" fill="#8A2D14" fill-opacity="0.72" stroke="#8A2D14" stroke-opacity="0.72" stroke-width="0.6"/>
<rect x="721.7" y="41.8" width="579.90" height="631.00" fill="none" stroke="#B3B3B3" stroke-width="1.4"/>
<line x1="852.6" y1="672.8" x2="852.6" y2="675.3" stroke="#999999" stroke-width="1.2"/>
<text x="852.60" y="688.40" font-size="16.4" font-weight="normal" fill="#4D4D4D" text-anchor="middle" stroke="#4D4D4D" stroke-width="0.2">0.0</text>
<line x1="984.7" y1="672.8" x2="984.7" y2="675.3" stroke="#999999" stroke-width="1.2"/>
<text x="984.70" y="688.40" font-size="16.4" font-weight="normal" fill="#4D4D4D" text-anchor="middle" stroke="#4D4D4D" stroke-width="0.2">0.2</text>
<line x1="1116.9" y1="672.8" x2="1116.9" y2="675.3" stroke="#999999" stroke-width="1.2"/>
<text x="1116.90" y="688.40" font-size="16.4" font-weight="normal" fill="#4D4D4D" text-anchor="middle" stroke="#4D4D4D" stroke-width="0.2">0.4</text>
<line x1="1249" y1="672.8" x2="1249" y2="675.3" stroke="#999999" stroke-width="1.2"/>
<text x="1249.00" y="688.40" font-size="16.4" font-weight="normal" fill="#4D4D4D" text-anchor="middle" stroke="#4D4D4D" stroke-width="0.2">0.6</text>
<line x1="719.2" y1="164.5" x2="721.7" y2="164.5" stroke="#999999" stroke-width="1.2"/>
<text x="718.10" y="170.40" font-size="16.4" font-weight="normal" fill="#4D4D4D" text-anchor="end" stroke="#4D4D4D" stroke-width="0.2">0.2</text>
<line x1="719.2" y1="328.8" x2="721.7" y2="328.8" stroke="#999999" stroke-width="1.2"/>
<text x="718.10" y="334.70" font-size="16.4" font-weight="normal" fill="#4D4D4D" text-anchor="end" stroke="#4D4D4D" stroke-width="0.2">0.0</text>
<line x1="719.2" y1="493.6" x2="721.7" y2="493.6" stroke="#999999" stroke-width="1.2"/>
<text x="718.10" y="499.50" font-size="16.4" font-weight="normal" fill="#4D4D4D" text-anchor="end" stroke="#4D4D4D" stroke-width="0.2">−0.2</text>
<line x1="719.2" y1="658.4" x2="721.7" y2="658.4" stroke="#999999" stroke-width="1.2"/>
<text x="718.10" y="664.30" font-size="16.4" font-weight="normal" fill="#4D4D4D" text-anchor="end" stroke="#4D4D4D" stroke-width="0.2">−0.4</text>
<text x="948.60" y="707.10" font-size="19" font-weight="normal" fill="#000" stroke="#000" stroke-width="0.3" textLength="125.57" lengthAdjust="spacingAndGlyphs" >Dim1 (22.32%)</text>
<g transform="rotate(-90)">
<text x="-420.10" y="681.00" font-size="19" font-weight="normal" fill="#000" stroke="#000" stroke-width="0.3" textLength="125.37" lengthAdjust="spacingAndGlyphs" >Dim2 (12.28%)</text>
</g>
<g>
<line x1="94.1" y1="775.2" x2="94.1" y2="1415" stroke="#F9F9F9" stroke-width="1.3"/>
<line x1="264.3" y1="775.2" x2="264.3" y2="1415" stroke="#F9F9F9" stroke-width="1.3"/>
<line x1="434.4" y1="775.2" x2="434.4" y2="1415" stroke="#F9F9F9" stroke-width="1.3"/>
<line x1="604.6" y1="775.2" x2="604.6" y2="1415" stroke="#F9F9F9" stroke-width="1.3"/>
<line x1="68.5" y1="805.8" x2="646.5" y2="805.8" stroke="#F9F9F9" stroke-width="1.3"/>
<line x1="68.5" y1="923" x2="646.5" y2="923" stroke="#F9F9F9" stroke-width="1.3"/>
<line x1="68.5" y1="1040.3" x2="646.5" y2="1040.3" stroke="#F9F9F9" stroke-width="1.3"/>
<line x1="68.5" y1="1157.5" x2="646.5" y2="1157.5" stroke="#F9F9F9" stroke-width="1.3"/>
<line x1="68.5" y1="1274.6" x2="646.5" y2="1274.6" stroke="#F9F9F9" stroke-width="1.3"/>
<line x1="68.5" y1="1391.7" x2="646.5" y2="1391.7" stroke="#F9F9F9" stroke-width="1.3"/>
<line x1="179.2" y1="775.2" x2="179.2" y2="1415" stroke="#EFEFEF" stroke-width="1.6"/>
<line x1="349.4" y1="775.2" x2="349.4" y2="1415" stroke="#EFEFEF" stroke-width="1.6"/>
<line x1="519.5" y1="775.2" x2="519.5" y2="1415" stroke="#EFEFEF" stroke-width="1.6"/>
<line x1="68.5" y1="864.4" x2="646.5" y2="864.4" stroke="#EFEFEF" stroke-width="1.6"/>
<line x1="68.5" y1="981.7" x2="646.5" y2="981.7" stroke="#EFEFEF" stroke-width="1.6"/>
<line x1="68.5" y1="1098.9" x2="646.5" y2="1098.9" stroke="#EFEFEF" stroke-width="1.6"/>
<line x1="68.5" y1="1216" x2="646.5" y2="1216" stroke="#EFEFEF" stroke-width="1.6"/>
<line x1="68.5" y1="1333" x2="646.5" y2="1333" stroke="#EFEFEF" stroke-width="1.6"/>
</g>
<line x1="111.2" y1="801.0" x2="111.2" y2="821.0" stroke="#AED8B0" stroke-opacity="0.55" stroke-width="1.0"/>
<line x1="101.2" y1="811.0" x2="121.2" y2="811.0" stroke="#AED8B0" stroke-opacity="0.55" stroke-width="1.0"/>
<line x1="104.3" y1="804.1" x2="118.1" y2="817.9" stroke="#AED8B0" stroke-opacity="0.55" stroke-width="1.0"/>
<line x1="104.3" y1="817.9" x2="118.1" y2="804.1" stroke="#AED8B0" stroke-opacity="0.55" stroke-width="1.0"/>
<line x1="122.7" y1="794.2" x2="122.7" y2="814.2" stroke="#69BB5C" stroke-opacity="0.55" stroke-width="1.0"/>
<line x1="112.7" y1="804.2" x2="132.7" y2="804.2" stroke="#69BB5C" stroke-opacity="0.55" stroke-width="1.0"/>
<line x1="115.8" y1="797.3" x2="129.6" y2="811.1" stroke="#69BB5C" stroke-opacity="0.55" stroke-width="1.0"/>
<line x1="115.8" y1="811.1" x2="129.6" y2="797.3" stroke="#69BB5C" stroke-opacity="0.55" stroke-width="1.0"/>
<line x1="169.8" y1="894.0" x2="169.8" y2="914.0" stroke="#FCCD9F" stroke-opacity="0.55" stroke-width="1.0"/>
<line x1="159.8" y1="904.0" x2="179.8" y2="904.0" stroke="#FCCD9F" stroke-opacity="0.55" stroke-width="1.0"/>
<line x1="162.9" y1="897.1" x2="176.7" y2="910.9" stroke="#FCCD9F" stroke-opacity="0.55" stroke-width="1.0"/>
<line x1="162.9" y1="910.9" x2="176.7" y2="897.1" stroke="#FCCD9F" stroke-opacity="0.55" stroke-width="1.0"/>
<line x1="117.4" y1="987.4" x2="117.4" y2="1007.4" stroke="#818181" stroke-opacity="0.55" stroke-width="1.0"/>
<line x1="107.4" y1="997.4" x2="127.4" y2="997.4" stroke="#818181" stroke-opacity="0.55" stroke-width="1.0"/>
<line x1="110.5" y1="990.5" x2="124.3" y2="1004.3" stroke="#818181" stroke-opacity="0.55" stroke-width="1.0"/>
<line x1="110.5" y1="1004.3" x2="124.3" y2="990.5" stroke="#818181" stroke-opacity="0.55" stroke-width="1.0"/>
<line x1="156.6" y1="1014.8" x2="156.6" y2="1034.8" stroke="#FCCD9F" stroke-opacity="0.55" stroke-width="1.0"/>
<line x1="146.6" y1="1024.8" x2="166.6" y2="1024.8" stroke="#FCCD9F" stroke-opacity="0.55" stroke-width="1.0"/>
<line x1="149.7" y1="1017.9" x2="163.5" y2="1031.7" stroke="#FCCD9F" stroke-opacity="0.55" stroke-width="1.0"/>
<line x1="149.7" y1="1031.7" x2="163.5" y2="1017.9" stroke="#FCCD9F" stroke-opacity="0.55" stroke-width="1.0"/>
<line x1="102.1" y1="1036.6" x2="102.1" y2="1056.6" stroke="#69BB5C" stroke-opacity="0.55" stroke-width="1.0"/>
<line x1="92.1" y1="1046.6" x2="112.1" y2="1046.6" stroke="#69BB5C" stroke-opacity="0.55" stroke-width="1.0"/>
<line x1="95.2" y1="1039.7" x2="109.0" y2="1053.5" stroke="#69BB5C" stroke-opacity="0.55" stroke-width="1.0"/>
<line x1="95.2" y1="1053.5" x2="109.0" y2="1039.7" stroke="#69BB5C" stroke-opacity="0.55" stroke-width="1.0"/>
<line x1="94.2" y1="1105.0" x2="94.2" y2="1125.0" stroke="#AED8B0" stroke-opacity="0.55" stroke-width="1.0"/>
<line x1="84.2" y1="1115.0" x2="104.2" y2="1115.0" stroke="#AED8B0" stroke-opacity="0.55" stroke-width="1.0"/>
<line x1="87.3" y1="1108.1" x2="101.1" y2="1121.9" stroke="#AED8B0" stroke-opacity="0.55" stroke-width="1.0"/>
<line x1="87.3" y1="1121.9" x2="101.1" y2="1108.1" stroke="#AED8B0" stroke-opacity="0.55" stroke-width="1.0"/>
<line x1="99.2" y1="1137.1" x2="99.2" y2="1157.1" stroke="#8A2D14" stroke-opacity="0.55" stroke-width="1.0"/>
<line x1="89.2" y1="1147.1" x2="109.2" y2="1147.1" stroke="#8A2D14" stroke-opacity="0.55" stroke-width="1.0"/>
<line x1="92.3" y1="1140.2" x2="106.1" y2="1154.0" stroke="#8A2D14" stroke-opacity="0.55" stroke-width="1.0"/>
<line x1="92.3" y1="1154.0" x2="106.1" y2="1140.2" stroke="#8A2D14" stroke-opacity="0.55" stroke-width="1.0"/>
<line x1="101.0" y1="1184.1" x2="101.0" y2="1204.1" stroke="#818181" stroke-opacity="0.55" stroke-width="1.0"/>
<line x1="91.0" y1="1194.1" x2="111.0" y2="1194.1" stroke="#818181" stroke-opacity="0.55" stroke-width="1.0"/>
<line x1="94.1" y1="1187.2" x2="107.9" y2="1201.0" stroke="#818181" stroke-opacity="0.55" stroke-width="1.0"/>
<line x1="94.1" y1="1201.0" x2="107.9" y2="1187.2" stroke="#818181" stroke-opacity="0.55" stroke-width="1.0"/>
<line x1="143.1" y1="1274.3" x2="143.1" y2="1294.3" stroke="#8A2D14" stroke-opacity="0.55" stroke-width="1.0"/>
<line x1="133.1" y1="1284.3" x2="153.1" y2="1284.3" stroke="#8A2D14" stroke-opacity="0.55" stroke-width="1.0"/>
<line x1="136.2" y1="1277.4" x2="150.0" y2="1291.2" stroke="#8A2D14" stroke-opacity="0.55" stroke-width="1.0"/>
<line x1="136.2" y1="1291.2" x2="150.0" y2="1277.4" stroke="#8A2D14" stroke-opacity="0.55" stroke-width="1.0"/>
<rect x="556.70" y="926.50" width="13.4" height="13.4" fill="#8A2D14" fill-opacity="0.72" stroke="#8A2D14" stroke-opacity="0.72" stroke-width="0.6"/>
<rect x="560.00" y="937.90" width="13.4" height="13.4" fill="#8A2D14" fill-opacity="0.72" stroke="#8A2D14" stroke-opacity="0.72" stroke-width="0.6"/>
<rect x="573.30" y="956.90" width="13.4" height="13.4" fill="#8A2D14" fill-opacity="0.72" stroke="#8A2D14" stroke-opacity="0.72" stroke-width="0.6"/>
<rect x="545.80" y="963.20" width="13.4" height="13.4" fill="#8A2D14" fill-opacity="0.72" stroke="#8A2D14" stroke-opacity="0.72" stroke-width="0.6"/>
<circle cx="555" cy="997.3" r="6.9" fill="#8A2D14" fill-opacity="0.72" stroke="#8A2D14" stroke-opacity="0.72" stroke-width="0.6"/>
<rect x="554.20" y="1010.10" width="13.4" height="13.4" fill="#8A2D14" fill-opacity="0.72" stroke="#8A2D14" stroke-opacity="0.72" stroke-width="0.6"/>
<circle cx="551.6" cy="1050.3" r="6.9" fill="#8A2D14" fill-opacity="0.72" stroke="#8A2D14" stroke-opacity="0.72" stroke-width="0.6"/>
<polygon points="563.40,1053.10 554.60,1068.30 572.20,1068.30" fill="#8A2D14" fill-opacity="0.72" stroke="#8A2D14" stroke-opacity="0.72" stroke-width="0.6"/>
<circle cx="519.2" cy="1092.4" r="6.9" fill="#8A2D14" fill-opacity="0.72" stroke="#8A2D14" stroke-opacity="0.72" stroke-width="0.6"/>
<polygon points="538.60,1098.60 529.80,1113.80 547.40,1113.80" fill="#8A2D14" fill-opacity="0.72" stroke="#8A2D14" stroke-opacity="0.72" stroke-width="0.6"/>
<circle cx="502.3" cy="1129.4" r="6.9" fill="#8A2D14" fill-opacity="0.72" stroke="#8A2D14" stroke-opacity="0.72" stroke-width="0.6"/>
<circle cx="513" cy="1125.4" r="6.9" fill="#8A2D14" fill-opacity="0.72" stroke="#8A2D14" stroke-opacity="0.72" stroke-width="0.6"/>
<polygon points="517.50,1131.40 508.70,1146.60 526.30,1146.60" fill="#8A2D14" fill-opacity="0.72" stroke="#8A2D14" stroke-opacity="0.72" stroke-width="0.6"/>
<polygon points="534.00,1125.20 525.20,1140.40 542.80,1140.40" fill="#8A2D14" fill-opacity="0.72" stroke="#8A2D14" stroke-opacity="0.72" stroke-width="0.6"/>
<polygon points="541.50,1121.60 532.70,1136.80 550.30,1136.80" fill="#8A2D14" fill-opacity="0.72" stroke="#8A2D14" stroke-opacity="0.72" stroke-width="0.6"/>
<polygon points="540.60,1128.70 547.00,1135.20 540.60,1141.70 534.20,1135.20" fill="#8A2D14" fill-opacity="0.72" stroke="#8A2D14" stroke-opacity="0.72" stroke-width="0.6"/>
<polygon points="504.70,1186.70 495.90,1201.90 513.50,1201.90" fill="#8A2D14" fill-opacity="0.72" stroke="#8A2D14" stroke-opacity="0.72" stroke-width="0.6"/>
<polygon points="508.80,1202.40 515.20,1208.90 508.80,1215.40 502.40,1208.90" fill="#8A2D14" fill-opacity="0.72" stroke="#8A2D14" stroke-opacity="0.72" stroke-width="0.6"/>
<polygon points="486.60,1270.00 493.00,1276.50 486.60,1283.00 480.20,1276.50" fill="#8A2D14" fill-opacity="0.72" stroke="#8A2D14" stroke-opacity="0.72" stroke-width="0.6"/>
<rect x="594.30" y="976.90" width="13.4" height="13.4" fill="#AED8B0" fill-opacity="0.72" stroke="#AED8B0" stroke-opacity="0.72" stroke-width="0.6"/>
<rect x="613.80" y="975.80" width="13.4" height="13.4" fill="#FCCD9F" fill-opacity="0.72" stroke="#FCCD9F" stroke-opacity="0.72" stroke-width="0.6"/>
<polygon points="610.60,981.00 601.80,996.20 619.40,996.20" fill="#AED8B0" fill-opacity="0.72" stroke="#AED8B0" stroke-opacity="0.72" stroke-width="0.6"/>
<polygon points="601.80,982.20 608.20,988.70 601.80,995.20 595.40,988.70" fill="#AED8B0" fill-opacity="0.72" stroke="#AED8B0" stroke-opacity="0.72" stroke-width="0.6"/>
<circle cx="602.9" cy="996.9" r="6.9" fill="#AED8B0" fill-opacity="0.72" stroke="#AED8B0" stroke-opacity="0.72" stroke-width="0.6"/>
<circle cx="591" cy="999.4" r="6.9" fill="#818181" fill-opacity="0.72" stroke="#818181" stroke-opacity="0.72" stroke-width="0.6"/>
<rect x="601.70" y="998.30" width="13.4" height="13.4" fill="#69BB5C" fill-opacity="0.72" stroke="#69BB5C" stroke-opacity="0.72" stroke-width="0.6"/>
<rect x="591.90" y="998.30" width="13.4" height="13.4" fill="#AED8B0" fill-opacity="0.72" stroke="#AED8B0" stroke-opacity="0.72" stroke-width="0.6"/>
<rect x="585.00" y="999.20" width="13.4" height="13.4" fill="#818181" fill-opacity="0.72" stroke="#818181" stroke-opacity="0.72" stroke-width="0.6"/>
<polygon points="588.30,1010.10 594.70,1016.60 588.30,1023.10 581.90,1016.60" fill="#818181" fill-opacity="0.72" stroke="#818181" stroke-opacity="0.72" stroke-width="0.6"/>
<polygon points="594.70,1010.50 601.10,1017.00 594.70,1023.50 588.30,1017.00" fill="#FCCD9F" fill-opacity="0.72" stroke="#FCCD9F" stroke-opacity="0.72" stroke-width="0.6"/>
<polygon points="607.20,1004.80 598.40,1020.00 616.00,1020.00" fill="#AED8B0" fill-opacity="0.72" stroke="#AED8B0" stroke-opacity="0.72" stroke-width="0.6"/>
<polygon points="576.30,1018.20 567.50,1033.40 585.10,1033.40" fill="#818181" fill-opacity="0.72" stroke="#818181" stroke-opacity="0.72" stroke-width="0.6"/>
<polygon points="576.30,1025.10 567.50,1040.30 585.10,1040.30" fill="#818181" fill-opacity="0.72" stroke="#818181" stroke-opacity="0.72" stroke-width="0.6"/>
<polygon points="600.00,1019.80 591.20,1035.00 608.80,1035.00" fill="#AED8B0" fill-opacity="0.72" stroke="#AED8B0" stroke-opacity="0.72" stroke-width="0.6"/>
<polygon points="605.00,1011.80 596.20,1027.00 613.80,1027.00" fill="#AED8B0" fill-opacity="0.72" stroke="#AED8B0" stroke-opacity="0.72" stroke-width="0.6"/>
<polygon points="599.00,1031.10 590.20,1046.30 607.80,1046.30" fill="#69BB5C" fill-opacity="0.72" stroke="#69BB5C" stroke-opacity="0.72" stroke-width="0.6"/>
<polygon points="592.00,1026.80 583.20,1042.00 600.80,1042.00" fill="#AED8B0" fill-opacity="0.72" stroke="#AED8B0" stroke-opacity="0.72" stroke-width="0.6"/>
<circle cx="579" cy="1044.3" r="6.9" fill="#FCCD9F" fill-opacity="0.72" stroke="#FCCD9F" stroke-opacity="0.72" stroke-width="0.6"/>
<polygon points="587.90,1039.50 594.30,1046.00 587.90,1052.50 581.50,1046.00" fill="#FCCD9F" fill-opacity="0.72" stroke="#FCCD9F" stroke-opacity="0.72" stroke-width="0.6"/>
<polygon points="568.70,1044.00 559.90,1059.20 577.50,1059.20" fill="#FCCD9F" fill-opacity="0.72" stroke="#FCCD9F" stroke-opacity="0.72" stroke-width="0.6"/>
<circle cx="591" cy="1060.3" r="6.9" fill="#AED8B0" fill-opacity="0.72" stroke="#AED8B0" stroke-opacity="0.72" stroke-width="0.6"/>
<polygon points="578.50,1056.00 584.90,1062.50 578.50,1069.00 572.10,1062.50" fill="#AED8B0" fill-opacity="0.72" stroke="#AED8B0" stroke-opacity="0.72" stroke-width="0.6"/>
<polygon points="598.00,1039.80 589.20,1055.00 606.80,1055.00" fill="#AED8B0" fill-opacity="0.72" stroke="#AED8B0" stroke-opacity="0.72" stroke-width="0.6"/>
<polygon points="582.40,1064.60 573.60,1079.80 591.20,1079.80" fill="#818181" fill-opacity="0.72" stroke="#818181" stroke-opacity="0.72" stroke-width="0.6"/>
<polygon points="591.00,1068.10 582.20,1083.30 599.80,1083.30" fill="#69BB5C" fill-opacity="0.72" stroke="#69BB5C" stroke-opacity="0.72" stroke-width="0.6"/>
<rect x="565.10" y="1078.10" width="13.4" height="13.4" fill="#818181" fill-opacity="0.72" stroke="#818181" stroke-opacity="0.72" stroke-width="0.6"/>
<circle cx="579.9" cy="1088.9" r="6.9" fill="#818181" fill-opacity="0.72" stroke="#818181" stroke-opacity="0.72" stroke-width="0.6"/>
<polygon points="567.80,1086.80 574.20,1093.30 567.80,1099.80 561.40,1093.30" fill="#FCCD9F" fill-opacity="0.72" stroke="#FCCD9F" stroke-opacity="0.72" stroke-width="0.6"/>
<polygon points="592.00,1088.60 583.20,1103.80 600.80,1103.80" fill="#AED8B0" fill-opacity="0.72" stroke="#AED8B0" stroke-opacity="0.72" stroke-width="0.6"/>
<rect x="571.40" y="1092.90" width="13.4" height="13.4" fill="#69BB5C" fill-opacity="0.72" stroke="#69BB5C" stroke-opacity="0.72" stroke-width="0.6"/>
<circle cx="567.8" cy="1102.7" r="6.9" fill="#818181" fill-opacity="0.72" stroke="#818181" stroke-opacity="0.72" stroke-width="0.6"/>
<circle cx="580.3" cy="1105.8" r="6.9" fill="#FCCD9F" fill-opacity="0.72" stroke="#FCCD9F" stroke-opacity="0.72" stroke-width="0.6"/>
<circle cx="582.1" cy="1114.3" r="6.9" fill="#69BB5C" fill-opacity="0.72" stroke="#69BB5C" stroke-opacity="0.72" stroke-width="0.6"/>
<polygon points="571.00,1106.30 562.20,1121.50 579.80,1121.50" fill="#FCCD9F" fill-opacity="0.72" stroke="#FCCD9F" stroke-opacity="0.72" stroke-width="0.6"/>
<polygon points="574.00,1101.80 565.20,1117.00 582.80,1117.00" fill="#69BB5C" fill-opacity="0.72" stroke="#69BB5C" stroke-opacity="0.72" stroke-width="0.6"/>
<polygon points="559.60,1114.50 566.00,1121.00 559.60,1127.50 553.20,1121.00" fill="#818181" fill-opacity="0.72" stroke="#818181" stroke-opacity="0.72" stroke-width="0.6"/>
<polygon points="573.60,1116.10 564.80,1131.30 582.40,1131.30" fill="#69BB5C" fill-opacity="0.72" stroke="#69BB5C" stroke-opacity="0.72" stroke-width="0.6"/>
<rect x="563.40" y="1125.00" width="13.4" height="13.4" fill="#69BB5C" fill-opacity="0.72" stroke="#69BB5C" stroke-opacity="0.72" stroke-width="0.6"/>
<polygon points="549.60,1119.80 556.00,1126.30 549.60,1132.80 543.20,1126.30" fill="#AED8B0" fill-opacity="0.72" stroke="#AED8B0" stroke-opacity="0.72" stroke-width="0.6"/>
<circle cx="555.4" cy="1134.3" r="6.9" fill="#AED8B0" fill-opacity="0.72" stroke="#AED8B0" stroke-opacity="0.72" stroke-width="0.6"/>
<rect x="547.30" y="1129.40" width="13.4" height="13.4" fill="#818181" fill-opacity="0.72" stroke="#818181" stroke-opacity="0.72" stroke-width="0.6"/>
<polygon points="565.60,1133.20 556.80,1148.40 574.40,1148.40" fill="#69BB5C" fill-opacity="0.72" stroke="#69BB5C" stroke-opacity="0.72" stroke-width="0.6"/>
<rect x="551.80" y="1142.80" width="13.4" height="13.4" fill="#FCCD9F" fill-opacity="0.72" stroke="#FCCD9F" stroke-opacity="0.72" stroke-width="0.6"/>
<polygon points="561.60,1146.10 568.00,1152.60 561.60,1159.10 555.20,1152.60" fill="#AED8B0" fill-opacity="0.72" stroke="#AED8B0" stroke-opacity="0.72" stroke-width="0.6"/>
<rect x="536.20" y="1143.80" width="13.4" height="13.4" fill="#818181" fill-opacity="0.72" stroke="#818181" stroke-opacity="0.72" stroke-width="0.6"/>
<polygon points="546.50,1159.00 537.70,1174.20 555.30,1174.20" fill="#818181" fill-opacity="0.72" stroke="#818181" stroke-opacity="0.72" stroke-width="0.6"/>
<polygon points="539.40,1151.80 530.60,1167.00 548.20,1167.00" fill="#FCCD9F" fill-opacity="0.72" stroke="#FCCD9F" stroke-opacity="0.72" stroke-width="0.6"/>
<rect x="550.80" y="1158.90" width="13.4" height="13.4" fill="#FCCD9F" fill-opacity="0.72" stroke="#FCCD9F" stroke-opacity="0.72" stroke-width="0.6"/>
<polygon points="557.20,1162.00 548.40,1177.20 566.00,1177.20" fill="#69BB5C" fill-opacity="0.72" stroke="#69BB5C" stroke-opacity="0.72" stroke-width="0.6"/>
<circle cx="536.4" cy="1181.2" r="6.9" fill="#AED8B0" fill-opacity="0.72" stroke="#AED8B0" stroke-opacity="0.72" stroke-width="0.6"/>
<polygon points="540.90,1177.40 532.10,1192.60 549.70,1192.60" fill="#FCCD9F" fill-opacity="0.72" stroke="#FCCD9F" stroke-opacity="0.72" stroke-width="0.6"/>
<rect x="522.90" y="1184.60" width="13.4" height="13.4" fill="#AED8B0" fill-opacity="0.72" stroke="#AED8B0" stroke-opacity="0.72" stroke-width="0.6"/>
<polygon points="530.30,1193.80 536.70,1200.30 530.30,1206.80 523.90,1200.30" fill="#FCCD9F" fill-opacity="0.72" stroke="#FCCD9F" stroke-opacity="0.72" stroke-width="0.6"/>
<polygon points="535.30,1199.10 541.70,1205.60 535.30,1212.10 528.90,1205.60" fill="#AED8B0" fill-opacity="0.72" stroke="#AED8B0" stroke-opacity="0.72" stroke-width="0.6"/>
<circle cx="527" cy="1220.7" r="6.9" fill="#FCCD9F" fill-opacity="0.72" stroke="#FCCD9F" stroke-opacity="0.72" stroke-width="0.6"/>
<polygon points="532.60,1216.10 539.00,1222.60 532.60,1229.10 526.20,1222.60" fill="#AED8B0" fill-opacity="0.72" stroke="#AED8B0" stroke-opacity="0.72" stroke-width="0.6"/>
<polygon points="522.50,1243.10 528.90,1249.60 522.50,1256.10 516.10,1249.60" fill="#69BB5C" fill-opacity="0.72" stroke="#69BB5C" stroke-opacity="0.72" stroke-width="0.6"/>
<polygon points="526.60,1259.90 533.00,1266.40 526.60,1272.90 520.20,1266.40" fill="#69BB5C" fill-opacity="0.72" stroke="#69BB5C" stroke-opacity="0.72" stroke-width="0.6"/>
<circle cx="512.5" cy="1268.9" r="6.9" fill="#69BB5C" fill-opacity="0.72" stroke="#69BB5C" stroke-opacity="0.72" stroke-width="0.6"/>
<polygon points="505.70,1282.00 512.10,1288.50 505.70,1295.00 499.30,1288.50" fill="#69BB5C" fill-opacity="0.72" stroke="#69BB5C" stroke-opacity="0.72" stroke-width="0.6"/>
<polygon points="512.50,1291.40 518.90,1297.90 512.50,1304.40 506.10,1297.90" fill="#69BB5C" fill-opacity="0.72" stroke="#69BB5C" stroke-opacity="0.72" stroke-width="0.6"/>
<polygon points="488.10,1336.80 494.50,1343.30 488.10,1349.80 481.70,1343.30" fill="#69BB5C" fill-opacity="0.72" stroke="#69BB5C" stroke-opacity="0.72" stroke-width="0.6"/>
<polygon points="423.40,1343.90 414.60,1359.10 432.20,1359.10" fill="#818181" fill-opacity="0.72" stroke="#818181" stroke-opacity="0.72" stroke-width="0.6"/>
<circle cx="415.5" cy="1386.7" r="6.9" fill="#818181" fill-opacity="0.72" stroke="#818181" stroke-opacity="0.72" stroke-width="0.6"/>
<rect x="68.5" y="775.2" width="578.00" height="639.80" fill="none" stroke="#B3B3B3" stroke-width="1.4"/>
<line x1="179.2" y1="1415" x2="179.2" y2="1417.5" stroke="#999999" stroke-width="1.2"/>
<text x="179.20" y="1430.60" font-size="16.4" font-weight="normal" fill="#4D4D4D" text-anchor="middle" stroke="#4D4D4D" stroke-width="0.2">−0.2</text>
<line x1="349.4" y1="1415" x2="349.4" y2="1417.5" stroke="#999999" stroke-width="1.2"/>
<text x="349.40" y="1430.60" font-size="16.4" font-weight="normal" fill="#4D4D4D" text-anchor="middle" stroke="#4D4D4D" stroke-width="0.2">−0.1</text>
<line x1="519.5" y1="1415" x2="519.5" y2="1417.5" stroke="#999999" stroke-width="1.2"/>
<text x="519.50" y="1430.60" font-size="16.4" font-weight="normal" fill="#4D4D4D" text-anchor="middle" stroke="#4D4D4D" stroke-width="0.2">0.0</text>
<line x1="66.0" y1="864.4" x2="68.5" y2="864.4" stroke="#999999" stroke-width="1.2"/>
<text x="64.90" y="870.30" font-size="16.4" font-weight="normal" fill="#4D4D4D" text-anchor="end" stroke="#4D4D4D" stroke-width="0.2">0.10</text>
<line x1="66.0" y1="981.7" x2="68.5" y2="981.7" stroke="#999999" stroke-width="1.2"/>
<text x="64.90" y="987.60" font-size="16.4" font-weight="normal" fill="#4D4D4D" text-anchor="end" stroke="#4D4D4D" stroke-width="0.2">0.05</text>
<line x1="66.0" y1="1098.9" x2="68.5" y2="1098.9" stroke="#999999" stroke-width="1.2"/>
<text x="64.90" y="1104.80" font-size="16.4" font-weight="normal" fill="#4D4D4D" text-anchor="end" stroke="#4D4D4D" stroke-width="0.2">0.00</text>
<line x1="66.0" y1="1216" x2="68.5" y2="1216" stroke="#999999" stroke-width="1.2"/>
<text x="64.90" y="1221.90" font-size="16.4" font-weight="normal" fill="#4D4D4D" text-anchor="end" stroke="#4D4D4D" stroke-width="0.2">−0.05</text>
<line x1="66.0" y1="1333" x2="68.5" y2="1333" stroke="#999999" stroke-width="1.2"/>
<text x="64.90" y="1338.90" font-size="16.4" font-weight="normal" fill="#4D4D4D" text-anchor="end" stroke="#4D4D4D" stroke-width="0.2">−0.10</text>
<text x="293.60" y="1450.00" font-size="19" font-weight="normal" fill="#000" stroke="#000" stroke-width="0.3" textLength="127.17" lengthAdjust="spacingAndGlyphs" >Dim1 (48.54%)</text>
<g transform="rotate(-90)">
<text x="-1158.80" y="17.50" font-size="19" font-weight="normal" fill="#000" stroke="#000" stroke-width="0.3" textLength="126.17" lengthAdjust="spacingAndGlyphs" >Dim2 (15.34%)</text>
</g>
<g>
<line x1="789" y1="774.4" x2="789" y2="1414.9" stroke="#F9F9F9" stroke-width="1.3"/>
<line x1="883.7" y1="774.4" x2="883.7" y2="1414.9" stroke="#F9F9F9" stroke-width="1.3"/>
<line x1="978.3" y1="774.4" x2="978.3" y2="1414.9" stroke="#F9F9F9" stroke-width="1.3"/>
<line x1="1072.8" y1="774.4" x2="1072.8" y2="1414.9" stroke="#F9F9F9" stroke-width="1.3"/>
<line x1="1167.3" y1="774.4" x2="1167.3" y2="1414.9" stroke="#F9F9F9" stroke-width="1.3"/>
<line x1="1261.9" y1="774.4" x2="1261.9" y2="1414.9" stroke="#F9F9F9" stroke-width="1.3"/>
<line x1="722.2" y1="886.4" x2="1300.9" y2="886.4" stroke="#F9F9F9" stroke-width="1.3"/>
<line x1="722.2" y1="1090.9" x2="1300.9" y2="1090.9" stroke="#F9F9F9" stroke-width="1.3"/>
<line x1="722.2" y1="1295.5" x2="1300.9" y2="1295.5" stroke="#F9F9F9" stroke-width="1.3"/>
<line x1="741.8" y1="774.4" x2="741.8" y2="1414.9" stroke="#EFEFEF" stroke-width="1.6"/>
<line x1="836.3" y1="774.4" x2="836.3" y2="1414.9" stroke="#EFEFEF" stroke-width="1.6"/>
<line x1="931.1" y1="774.4" x2="931.1" y2="1414.9" stroke="#EFEFEF" stroke-width="1.6"/>
<line x1="1025.6" y1="774.4" x2="1025.6" y2="1414.9" stroke="#EFEFEF" stroke-width="1.6"/>
<line x1="1120" y1="774.4" x2="1120" y2="1414.9" stroke="#EFEFEF" stroke-width="1.6"/>
<line x1="1214.6" y1="774.4" x2="1214.6" y2="1414.9" stroke="#EFEFEF" stroke-width="1.6"/>
<line x1="722.2" y1="784.2" x2="1300.9" y2="784.2" stroke="#EFEFEF" stroke-width="1.6"/>
<line x1="722.2" y1="988.5" x2="1300.9" y2="988.5" stroke="#EFEFEF" stroke-width="1.6"/>
<line x1="722.2" y1="1193.3" x2="1300.9" y2="1193.3" stroke="#EFEFEF" stroke-width="1.6"/>
<line x1="722.2" y1="1397.7" x2="1300.9" y2="1397.7" stroke="#EFEFEF" stroke-width="1.6"/>
</g>
<line x1="849.6" y1="869.2" x2="849.6" y2="889.2" stroke="#69BB5C" stroke-opacity="0.55" stroke-width="1.0"/>
<line x1="839.6" y1="879.2" x2="859.6" y2="879.2" stroke="#69BB5C" stroke-opacity="0.55" stroke-width="1.0"/>
<line x1="842.7" y1="872.3" x2="856.5" y2="886.1" stroke="#69BB5C" stroke-opacity="0.55" stroke-width="1.0"/>
<line x1="842.7" y1="886.1" x2="856.5" y2="872.3" stroke="#69BB5C" stroke-opacity="0.55" stroke-width="1.0"/>
<line x1="816.6" y1="883.1" x2="816.6" y2="903.1" stroke="#AED8B0" stroke-opacity="0.55" stroke-width="1.0"/>
<line x1="806.6" y1="893.1" x2="826.6" y2="893.1" stroke="#AED8B0" stroke-opacity="0.55" stroke-width="1.0"/>
<line x1="809.7" y1="886.2" x2="823.5" y2="900.0" stroke="#AED8B0" stroke-opacity="0.55" stroke-width="1.0"/>
<line x1="809.7" y1="900.0" x2="823.5" y2="886.2" stroke="#AED8B0" stroke-opacity="0.55" stroke-width="1.0"/>
<line x1="882.7" y1="909.7" x2="882.7" y2="929.7" stroke="#FCCD9F" stroke-opacity="0.55" stroke-width="1.0"/>
<line x1="872.7" y1="919.7" x2="892.7" y2="919.7" stroke="#FCCD9F" stroke-opacity="0.55" stroke-width="1.0"/>
<line x1="875.8" y1="912.8" x2="889.6" y2="926.6" stroke="#FCCD9F" stroke-opacity="0.55" stroke-width="1.0"/>
<line x1="875.8" y1="926.6" x2="889.6" y2="912.8" stroke="#FCCD9F" stroke-opacity="0.55" stroke-width="1.0"/>
<line x1="748.4" y1="928.4" x2="748.4" y2="948.4" stroke="#69BB5C" stroke-opacity="0.55" stroke-width="1.0"/>
<line x1="738.4" y1="938.4" x2="758.4" y2="938.4" stroke="#69BB5C" stroke-opacity="0.55" stroke-width="1.0"/>
<line x1="741.5" y1="931.5" x2="755.3" y2="945.3" stroke="#69BB5C" stroke-opacity="0.55" stroke-width="1.0"/>
<line x1="741.5" y1="945.3" x2="755.3" y2="931.5" stroke="#69BB5C" stroke-opacity="0.55" stroke-width="1.0"/>
<line x1="826.4" y1="945.2" x2="826.4" y2="965.2" stroke="#818181" stroke-opacity="0.55" stroke-width="1.0"/>
<line x1="816.4" y1="955.2" x2="836.4" y2="955.2" stroke="#818181" stroke-opacity="0.55" stroke-width="1.0"/>
<line x1="819.5" y1="948.3" x2="833.3" y2="962.1" stroke="#818181" stroke-opacity="0.55" stroke-width="1.0"/>
<line x1="819.5" y1="962.1" x2="833.3" y2="948.3" stroke="#818181" stroke-opacity="0.55" stroke-width="1.0"/>
<line x1="853.2" y1="960.7" x2="853.2" y2="980.7" stroke="#FCCD9F" stroke-opacity="0.55" stroke-width="1.0"/>
<line x1="843.2" y1="970.7" x2="863.2" y2="970.7" stroke="#FCCD9F" stroke-opacity="0.55" stroke-width="1.0"/>
<line x1="846.3" y1="963.8" x2="860.1" y2="977.6" stroke="#FCCD9F" stroke-opacity="0.55" stroke-width="1.0"/>
<line x1="846.3" y1="977.6" x2="860.1" y2="963.8" stroke="#FCCD9F" stroke-opacity="0.55" stroke-width="1.0"/>
<line x1="760.5" y1="987.8" x2="760.5" y2="1007.8" stroke="#AED8B0" stroke-opacity="0.55" stroke-width="1.0"/>
<line x1="750.5" y1="997.8" x2="770.5" y2="997.8" stroke="#AED8B0" stroke-opacity="0.55" stroke-width="1.0"/>
<line x1="753.6" y1="990.9" x2="767.4" y2="1004.7" stroke="#AED8B0" stroke-opacity="0.55" stroke-width="1.0"/>
<line x1="753.6" y1="1004.7" x2="767.4" y2="990.9" stroke="#AED8B0" stroke-opacity="0.55" stroke-width="1.0"/>
<line x1="819.2" y1="1041.3" x2="819.2" y2="1061.3" stroke="#8A2D14" stroke-opacity="0.55" stroke-width="1.0"/>
<line x1="809.2" y1="1051.3" x2="829.2" y2="1051.3" stroke="#8A2D14" stroke-opacity="0.55" stroke-width="1.0"/>
<line x1="812.3" y1="1044.4" x2="826.1" y2="1058.2" stroke="#8A2D14" stroke-opacity="0.55" stroke-width="1.0"/>
<line x1="812.3" y1="1058.2" x2="826.1" y2="1044.4" stroke="#8A2D14" stroke-opacity="0.55" stroke-width="1.0"/>
<line x1="836.4" y1="1083.3" x2="836.4" y2="1103.3" stroke="#818181" stroke-opacity="0.55" stroke-width="1.0"/>
<line x1="826.4" y1="1093.3" x2="846.4" y2="1093.3" stroke="#818181" stroke-opacity="0.55" stroke-width="1.0"/>
<line x1="829.5" y1="1086.4" x2="843.3" y2="1100.2" stroke="#818181" stroke-opacity="0.55" stroke-width="1.0"/>
<line x1="829.5" y1="1100.2" x2="843.3" y2="1086.4" stroke="#818181" stroke-opacity="0.55" stroke-width="1.0"/>
<line x1="1019.0" y1="1262.0" x2="1019.0" y2="1282.0" stroke="#8A2D14" stroke-opacity="0.55" stroke-width="1.0"/>
<line x1="1009.0" y1="1272.0" x2="1029.0" y2="1272.0" stroke="#8A2D14" stroke-opacity="0.55" stroke-width="1.0"/>
<line x1="1012.1" y1="1265.1" x2="1025.9" y2="1278.9" stroke="#8A2D14" stroke-opacity="0.55" stroke-width="1.0"/>
<line x1="1012.1" y1="1278.9" x2="1025.9" y2="1265.1" stroke="#8A2D14" stroke-opacity="0.55" stroke-width="1.0"/>
<rect x="1228.60" y="796.50" width="13.4" height="13.4" fill="#8A2D14" fill-opacity="0.72" stroke="#8A2D14" stroke-opacity="0.72" stroke-width="0.6"/>
<rect x="1236.20" y="823.90" width="13.4" height="13.4" fill="#8A2D14" fill-opacity="0.72" stroke="#8A2D14" stroke-opacity="0.72" stroke-width="0.6"/>
<rect x="1226.20" y="831.60" width="13.4" height="13.4" fill="#8A2D14" fill-opacity="0.72" stroke="#8A2D14" stroke-opacity="0.72" stroke-width="0.6"/>
<circle cx="1243.9" cy="869.5" r="6.9" fill="#8A2D14" fill-opacity="0.72" stroke="#8A2D14" stroke-opacity="0.72" stroke-width="0.6"/>
<rect x="1241.50" y="863.30" width="13.4" height="13.4" fill="#818181" fill-opacity="0.72" stroke="#818181" stroke-opacity="0.72" stroke-width="0.6"/>
<polygon points="1257.30,858.40 1248.50,873.60 1266.10,873.60" fill="#AED8B0" fill-opacity="0.72" stroke="#AED8B0" stroke-opacity="0.72" stroke-width="0.6"/>
<circle cx="1267" cy="874.3" r="6.9" fill="#818181" fill-opacity="0.72" stroke="#818181" stroke-opacity="0.72" stroke-width="0.6"/>
<rect x="1253.00" y="876.30" width="13.4" height="13.4" fill="#69BB5C" fill-opacity="0.72" stroke="#69BB5C" stroke-opacity="0.72" stroke-width="0.6"/>
<rect x="1253.00" y="884.90" width="13.4" height="13.4" fill="#AED8B0" fill-opacity="0.72" stroke="#AED8B0" stroke-opacity="0.72" stroke-width="0.6"/>
<circle cx="1273.7" cy="891.1" r="6.9" fill="#818181" fill-opacity="0.72" stroke="#818181" stroke-opacity="0.72" stroke-width="0.6"/>
<rect x="1238.20" y="883.50" width="13.4" height="13.4" fill="#8A2D14" fill-opacity="0.72" stroke="#8A2D14" stroke-opacity="0.72" stroke-width="0.6"/>
<circle cx="1236.7" cy="897.9" r="6.9" fill="#FCCD9F" fill-opacity="0.72" stroke="#FCCD9F" stroke-opacity="0.72" stroke-width="0.6"/>
<polygon points="1233.30,901.60 1224.50,916.80 1242.10,916.80" fill="#8A2D14" fill-opacity="0.72" stroke="#8A2D14" stroke-opacity="0.72" stroke-width="0.6"/>
<polygon points="1247.30,902.50 1238.50,917.70 1256.10,917.70" fill="#FCCD9F" fill-opacity="0.72" stroke="#FCCD9F" stroke-opacity="0.72" stroke-width="0.6"/>
<polygon points="1255.00,894.80 1246.20,910.00 1263.80,910.00" fill="#AED8B0" fill-opacity="0.72" stroke="#AED8B0" stroke-opacity="0.72" stroke-width="0.6"/>
<polygon points="1259.70,905.80 1250.90,921.00 1268.50,921.00" fill="#69BB5C" fill-opacity="0.72" stroke="#69BB5C" stroke-opacity="0.72" stroke-width="0.6"/>
<polygon points="1267.00,898.50 1273.40,905.00 1267.00,911.50 1260.60,905.00" fill="#818181" fill-opacity="0.72" stroke="#818181" stroke-opacity="0.72" stroke-width="0.6"/>
<polygon points="1274.60,909.80 1265.80,925.00 1283.40,925.00" fill="#818181" fill-opacity="0.72" stroke="#818181" stroke-opacity="0.72" stroke-width="0.6"/>
<polygon points="1231.40,925.10 1222.60,940.30 1240.20,940.30" fill="#8A2D14" fill-opacity="0.72" stroke="#8A2D14" stroke-opacity="0.72" stroke-width="0.6"/>
<circle cx="1232.9" cy="934" r="6.9" fill="#8A2D14" fill-opacity="0.72" stroke="#8A2D14" stroke-opacity="0.72" stroke-width="0.6"/>
<polygon points="1229.00,947.40 1220.20,962.60 1237.80,962.60" fill="#8A2D14" fill-opacity="0.72" stroke="#8A2D14" stroke-opacity="0.72" stroke-width="0.6"/>
<circle cx="1233.8" cy="955.1" r="6.9" fill="#8A2D14" fill-opacity="0.72" stroke="#8A2D14" stroke-opacity="0.72" stroke-width="0.6"/>
<polygon points="1239.60,950.60 1246.00,957.10 1239.60,963.60 1233.20,957.10" fill="#8A2D14" fill-opacity="0.72" stroke="#8A2D14" stroke-opacity="0.72" stroke-width="0.6"/>
<polygon points="1240.50,958.80 1231.70,974.00 1249.30,974.00" fill="#8A2D14" fill-opacity="0.72" stroke="#8A2D14" stroke-opacity="0.72" stroke-width="0.6"/>
<circle cx="1224.2" cy="1006" r="6.9" fill="#8A2D14" fill-opacity="0.72" stroke="#8A2D14" stroke-opacity="0.72" stroke-width="0.6"/>
<polygon points="1229.00,994.50 1220.20,1009.70 1237.80,1009.70" fill="#8A2D14" fill-opacity="0.72" stroke="#8A2D14" stroke-opacity="0.72" stroke-width="0.6"/>
<polygon points="1238.10,1026.00 1244.50,1032.50 1238.10,1039.00 1231.70,1032.50" fill="#8A2D14" fill-opacity="0.72" stroke="#8A2D14" stroke-opacity="0.72" stroke-width="0.6"/>
<polygon points="1247.30,935.70 1253.70,942.20 1247.30,948.70 1240.90,942.20" fill="#FCCD9F" fill-opacity="0.72" stroke="#FCCD9F" stroke-opacity="0.72" stroke-width="0.6"/>
<rect x="1253.00" y="919.60" width="13.4" height="13.4" fill="#AED8B0" fill-opacity="0.72" stroke="#AED8B0" stroke-opacity="0.72" stroke-width="0.6"/>
<circle cx="1258.3" cy="934.5" r="6.9" fill="#AED8B0" fill-opacity="0.72" stroke="#AED8B0" stroke-opacity="0.72" stroke-width="0.6"/>
<polygon points="1263.60,925.80 1254.80,941.00 1272.40,941.00" fill="#AED8B0" fill-opacity="0.72" stroke="#AED8B0" stroke-opacity="0.72" stroke-width="0.6"/>
<polygon points="1249.20,948.60 1255.60,955.10 1249.20,961.60 1242.80,955.10" fill="#AED8B0" fill-opacity="0.72" stroke="#AED8B0" stroke-opacity="0.72" stroke-width="0.6"/>
<rect x="1252.10" y="951.30" width="13.4" height="13.4" fill="#818181" fill-opacity="0.72" stroke="#818181" stroke-opacity="0.72" stroke-width="0.6"/>
<polygon points="1262.20,952.20 1253.40,967.40 1271.00,967.40" fill="#818181" fill-opacity="0.72" stroke="#818181" stroke-opacity="0.72" stroke-width="0.6"/>
<circle cx="1269.4" cy="960.9" r="6.9" fill="#69BB5C" fill-opacity="0.72" stroke="#69BB5C" stroke-opacity="0.72" stroke-width="0.6"/>
<circle cx="1270.3" cy="965.7" r="6.9" fill="#FCCD9F" fill-opacity="0.72" stroke="#FCCD9F" stroke-opacity="0.72" stroke-width="0.6"/>
<circle cx="1256.9" cy="967.6" r="6.9" fill="#AED8B0" fill-opacity="0.72" stroke="#AED8B0" stroke-opacity="0.72" stroke-width="0.6"/>
<polygon points="1253.00,972.70 1259.40,979.20 1253.00,985.70 1246.60,979.20" fill="#818181" fill-opacity="0.72" stroke="#818181" stroke-opacity="0.72" stroke-width="0.6"/>
<circle cx="1267.4" cy="977.2" r="6.9" fill="#69BB5C" fill-opacity="0.72" stroke="#69BB5C" stroke-opacity="0.72" stroke-width="0.6"/>
<circle cx="1267.4" cy="981.1" r="6.9" fill="#AED8B0" fill-opacity="0.72" stroke="#AED8B0" stroke-opacity="0.72" stroke-width="0.6"/>
<polygon points="1274.20,970.90 1265.40,986.10 1283.00,986.10" fill="#AED8B0" fill-opacity="0.72" stroke="#AED8B0" stroke-opacity="0.72" stroke-width="0.6"/>
<polygon points="1247.30,974.60 1253.70,981.10 1247.30,987.60 1240.90,981.10" fill="#FCCD9F" fill-opacity="0.72" stroke="#FCCD9F" stroke-opacity="0.72" stroke-width="0.6"/>
<circle cx="1261.7" cy="993.6" r="6.9" fill="#69BB5C" fill-opacity="0.72" stroke="#69BB5C" stroke-opacity="0.72" stroke-width="0.6"/>
<polygon points="1242.50,995.50 1233.70,1010.70 1251.30,1010.70" fill="#818181" fill-opacity="0.72" stroke="#818181" stroke-opacity="0.72" stroke-width="0.6"/>
<circle cx="1253" cy="1005.1" r="6.9" fill="#AED8B0" fill-opacity="0.72" stroke="#AED8B0" stroke-opacity="0.72" stroke-width="0.6"/>
<rect x="1259.80" y="1000.30" width="13.4" height="13.4" fill="#69BB5C" fill-opacity="0.72" stroke="#69BB5C" stroke-opacity="0.72" stroke-width="0.6"/>
<polygon points="1262.60,995.80 1253.80,1011.00 1271.40,1011.00" fill="#69BB5C" fill-opacity="0.72" stroke="#69BB5C" stroke-opacity="0.72" stroke-width="0.6"/>
<circle cx="1243.4" cy="1016.6" r="6.9" fill="#AED8B0" fill-opacity="0.72" stroke="#AED8B0" stroke-opacity="0.72" stroke-width="0.6"/>
<circle cx="1253" cy="1015.7" r="6.9" fill="#FCCD9F" fill-opacity="0.72" stroke="#FCCD9F" stroke-opacity="0.72" stroke-width="0.6"/>
<rect x="1245.80" y="1022.40" width="13.4" height="13.4" fill="#818181" fill-opacity="0.72" stroke="#818181" stroke-opacity="0.72" stroke-width="0.6"/>
<rect x="1255.00" y="1021.00" width="13.4" height="13.4" fill="#69BB5C" fill-opacity="0.72" stroke="#69BB5C" stroke-opacity="0.72" stroke-width="0.6"/>
<rect x="1243.90" y="1032.00" width="13.4" height="13.4" fill="#FCCD9F" fill-opacity="0.72" stroke="#FCCD9F" stroke-opacity="0.72" stroke-width="0.6"/>
<rect x="1233.10" y="1040.30" width="13.4" height="13.4" fill="#AED8B0" fill-opacity="0.72" stroke="#AED8B0" stroke-opacity="0.72" stroke-width="0.6"/>
<polygon points="1254.70,1040.80 1261.10,1047.30 1254.70,1053.80 1248.30,1047.30" fill="#AED8B0" fill-opacity="0.72" stroke="#AED8B0" stroke-opacity="0.72" stroke-width="0.6"/>
<rect x="1245.80" y="1053.10" width="13.4" height="13.4" fill="#FCCD9F" fill-opacity="0.72" stroke="#FCCD9F" stroke-opacity="0.72" stroke-width="0.6"/>
<polygon points="1239.40,1054.20 1230.60,1069.40 1248.20,1069.40" fill="#FCCD9F" fill-opacity="0.72" stroke="#FCCD9F" stroke-opacity="0.72" stroke-width="0.6"/>
<polygon points="1270.30,1044.40 1261.50,1059.60 1279.10,1059.60" fill="#69BB5C" fill-opacity="0.72" stroke="#69BB5C" stroke-opacity="0.72" stroke-width="0.6"/>
<polygon points="1265.70,1065.50 1256.90,1080.70 1274.50,1080.70" fill="#69BB5C" fill-opacity="0.72" stroke="#69BB5C" stroke-opacity="0.72" stroke-width="0.6"/>
<polygon points="1242.70,1089.00 1249.10,1095.50 1242.70,1102.00 1236.30,1095.50" fill="#AED8B0" fill-opacity="0.72" stroke="#AED8B0" stroke-opacity="0.72" stroke-width="0.6"/>
<polygon points="1248.00,1089.80 1254.40,1096.30 1248.00,1102.80 1241.60,1096.30" fill="#FCCD9F" fill-opacity="0.72" stroke="#FCCD9F" stroke-opacity="0.72" stroke-width="0.6"/>
<polygon points="1242.90,1101.30 1249.30,1107.80 1242.90,1114.30 1236.50,1107.80" fill="#8A2D14" fill-opacity="0.72" stroke="#8A2D14" stroke-opacity="0.72" stroke-width="0.6"/>
<circle cx="1247.3" cy="1111.8" r="6.9" fill="#AED8B0" fill-opacity="0.72" stroke="#AED8B0" stroke-opacity="0.72" stroke-width="0.6"/>
<polygon points="1246.80,1111.30 1253.20,1117.80 1246.80,1124.30 1240.40,1117.80" fill="#AED8B0" fill-opacity="0.72" stroke="#AED8B0" stroke-opacity="0.72" stroke-width="0.6"/>
<circle cx="1254.5" cy="1146.2" r="6.9" fill="#69BB5C" fill-opacity="0.72" stroke="#69BB5C" stroke-opacity="0.72" stroke-width="0.6"/>
<polygon points="1248.70,1153.70 1255.10,1160.20 1248.70,1166.70 1242.30,1160.20" fill="#69BB5C" fill-opacity="0.72" stroke="#69BB5C" stroke-opacity="0.72" stroke-width="0.6"/>
<circle cx="1246" cy="1171.2" r="6.9" fill="#FCCD9F" fill-opacity="0.72" stroke="#FCCD9F" stroke-opacity="0.72" stroke-width="0.6"/>
<polygon points="1258.10,1167.30 1264.50,1173.80 1258.10,1180.30 1251.70,1173.80" fill="#69BB5C" fill-opacity="0.72" stroke="#69BB5C" stroke-opacity="0.72" stroke-width="0.6"/>
<polygon points="1253.30,1182.00 1259.70,1188.50 1253.30,1195.00 1246.90,1188.50" fill="#69BB5C" fill-opacity="0.72" stroke="#69BB5C" stroke-opacity="0.72" stroke-width="0.6"/>
<polygon points="1256.50,1197.20 1262.90,1203.70 1256.50,1210.20 1250.10,1203.70" fill="#69BB5C" fill-opacity="0.72" stroke="#69BB5C" stroke-opacity="0.72" stroke-width="0.6"/>
<polygon points="1236.50,1201.60 1227.70,1216.80 1245.30,1216.80" fill="#818181" fill-opacity="0.72" stroke="#818181" stroke-opacity="0.72" stroke-width="0.6"/>
<polygon points="1258.30,1262.50 1264.70,1269.00 1258.30,1275.50 1251.90,1269.00" fill="#69BB5C" fill-opacity="0.72" stroke="#69BB5C" stroke-opacity="0.72" stroke-width="0.6"/>
<circle cx="1233" cy="1386" r="6.9" fill="#818181" fill-opacity="0.72" stroke="#818181" stroke-opacity="0.72" stroke-width="0.6"/>
<rect x="722.2" y="774.4" width="578.70" height="640.50" fill="none" stroke="#B3B3B3" stroke-width="1.4"/>
<line x1="741.8" y1="1414.9" x2="741.8" y2="1417.4" stroke="#999999" stroke-width="1.2"/>
<text x="741.80" y="1430.50" font-size="16.4" font-weight="normal" fill="#4D4D4D" text-anchor="middle" stroke="#4D4D4D" stroke-width="0.2">−0.25</text>
<line x1="836.3" y1="1414.9" x2="836.3" y2="1417.4" stroke="#999999" stroke-width="1.2"/>
<text x="836.30" y="1430.50" font-size="16.4" font-weight="normal" fill="#4D4D4D" text-anchor="middle" stroke="#4D4D4D" stroke-width="0.2">−0.20</text>
<line x1="931.1" y1="1414.9" x2="931.1" y2="1417.4" stroke="#999999" stroke-width="1.2"/>
<text x="931.10" y="1430.50" font-size="16.4" font-weight="normal" fill="#4D4D4D" text-anchor="middle" stroke="#4D4D4D" stroke-width="0.2">−0.15</text>
<line x1="1025.6" y1="1414.9" x2="1025.6" y2="1417.4" stroke="#999999" stroke-width="1.2"/>
<text x="1025.60" y="1430.50" font-size="16.4" font-weight="normal" fill="#4D4D4D" text-anchor="middle" stroke="#4D4D4D" stroke-width="0.2">−0.10</text>
<line x1="1120" y1="1414.9" x2="1120" y2="1417.4" stroke="#999999" stroke-width="1.2"/>
<text x="1120.00" y="1430.50" font-size="16.4" font-weight="normal" fill="#4D4D4D" text-anchor="middle" stroke="#4D4D4D" stroke-width="0.2">−0.05</text>
<line x1="1214.6" y1="1414.9" x2="1214.6" y2="1417.4" stroke="#999999" stroke-width="1.2"/>
<text x="1214.60" y="1430.50" font-size="16.4" font-weight="normal" fill="#4D4D4D" text-anchor="middle" stroke="#4D4D4D" stroke-width="0.2">0.00</text>
<line x1="719.7" y1="784.2" x2="722.2" y2="784.2" stroke="#999999" stroke-width="1.2"/>
<text x="718.60" y="790.10" font-size="16.4" font-weight="normal" fill="#4D4D4D" text-anchor="end" stroke="#4D4D4D" stroke-width="0.2">0.05</text>
<line x1="719.7" y1="988.5" x2="722.2" y2="988.5" stroke="#999999" stroke-width="1.2"/>
<text x="718.60" y="994.40" font-size="16.4" font-weight="normal" fill="#4D4D4D" text-anchor="end" stroke="#4D4D4D" stroke-width="0.2">0.00</text>
<line x1="719.7" y1="1193.3" x2="722.2" y2="1193.3" stroke="#999999" stroke-width="1.2"/>
<text x="718.60" y="1199.20" font-size="16.4" font-weight="normal" fill="#4D4D4D" text-anchor="end" stroke="#4D4D4D" stroke-width="0.2">−0.05</text>
<line x1="719.7" y1="1397.7" x2="722.2" y2="1397.7" stroke="#999999" stroke-width="1.2"/>
<text x="718.60" y="1403.60" font-size="16.4" font-weight="normal" fill="#4D4D4D" text-anchor="end" stroke="#4D4D4D" stroke-width="0.2">−0.10</text>
<text x="947.70" y="1450.00" font-size="19" font-weight="normal" fill="#000" stroke="#000" stroke-width="0.3" textLength="127.87" lengthAdjust="spacingAndGlyphs" >Dim1 (75.49%)</text>
<g transform="rotate(-90)">
<text x="-1158.30" y="671.60" font-size="19" font-weight="normal" fill="#000" stroke="#000" stroke-width="0.3" textLength="126.47" lengthAdjust="spacingAndGlyphs" >Dim2 (10.95%)</text>
</g>
<text x="14.00" y="36.00" font-size="50" font-weight="bold" fill="#000" stroke="#000" stroke-width="1.2" textLength="37.11" lengthAdjust="spacingAndGlyphs" >A</text>
<text x="67.30" y="31.30" font-size="38" font-weight="normal" fill="#000" stroke="#000" stroke-width="0.6" textLength="187.91" lengthAdjust="spacingAndGlyphs" >Bray-Curtis</text>
<text x="668.00" y="39.30" font-size="49" font-weight="bold" fill="#000" stroke="#000" stroke-width="1.2" textLength="29.59" lengthAdjust="spacingAndGlyphs" >B</text>
<text x="721.60" y="32.30" font-size="38" font-weight="normal" fill="#000" stroke="#000" stroke-width="0.6" textLength="338.56" lengthAdjust="spacingAndGlyphs" >Unweighted UniFrac</text>
<text x="18.70" y="768.50" font-size="50" font-weight="bold" fill="#000" stroke="#000" stroke-width="1.2" textLength="29.59" lengthAdjust="spacingAndGlyphs" >C</text>
<text x="70.20" y="766.30" font-size="38" font-weight="normal" fill="#000" stroke="#000" stroke-width="0.6" textLength="298.96" lengthAdjust="spacingAndGlyphs" >Weighted UniFrac</text>
<text x="665.90" y="766.60" font-size="47" font-weight="bold" fill="#000" stroke="#000" stroke-width="1.2" textLength="33.70" lengthAdjust="spacingAndGlyphs" >D</text>
<text x="724.80" y="764.60" font-size="38" font-weight="normal" fill="#000" stroke="#000" stroke-width="0.6" textLength="411.48" lengthAdjust="spacingAndGlyphs" >Hierachical Meta-Storms</text>
<text x="73.90" y="619.20" font-size="18.8" font-weight="normal" fill="#000" stroke="#000" stroke-width="0.3" textLength="121.23" lengthAdjust="spacingAndGlyphs" >PERMANOVA</text>
<line x1="74.3" y1="621.4" x2="193.9" y2="621.4" stroke="#000" stroke-width="2.5"/>
<text x="74.90" y="641.40" font-size="18.6" font-weight="normal" fill="#000" stroke="#000" stroke-width="0.3" textLength="324.58" lengthAdjust="spacingAndGlyphs" style="white-space:pre">Treatment R² = 0.24173 (p = 0.001  ***)</text>
<text x="73.90" y="663.10" font-size="18.6" font-weight="normal" fill="#000" stroke="#000" stroke-width="0.3" textLength="289.75" lengthAdjust="spacingAndGlyphs" style="white-space:pre">Breed R² = 0.20027 (p = 0.001  ***)</text>
<text x="726.50" y="63.20" font-size="18.8" font-weight="normal" fill="#000" stroke="#000" stroke-width="0.3" textLength="120.63" lengthAdjust="spacingAndGlyphs" >PERMANOVA</text>
<line x1="726.5" y1="65.4" x2="845.9" y2="65.4" stroke="#000" stroke-width="2.5"/>
<text x="727.50" y="85.40" font-size="18.6" font-weight="normal" fill="#000" stroke="#000" stroke-width="0.3" textLength="323.98" lengthAdjust="spacingAndGlyphs" style="white-space:pre">Treatment R² = 0.22982 (p = 0.001  ***)</text>
<text x="726.50" y="107.10" font-size="18.6" font-weight="normal" fill="#000" stroke="#000" stroke-width="0.3" textLength="289.45" lengthAdjust="spacingAndGlyphs" style="white-space:pre">Breed R² = 0.16979 (p = 0.001  ***)</text>
<text x="73.90" y="799.10" font-size="18.8" font-weight="normal" fill="#000" stroke="#000" stroke-width="0.3" textLength="121.23" lengthAdjust="spacingAndGlyphs" >PERMANOVA</text>
<line x1="74.3" y1="801.3" x2="193.9" y2="801.3" stroke="#000" stroke-width="2.5"/>
<text x="74.90" y="821.30" font-size="18.6" font-weight="normal" fill="#000" stroke="#000" stroke-width="0.3" textLength="324.58" lengthAdjust="spacingAndGlyphs" style="white-space:pre">Treatment R² = 0.49762 (p = 0.001  ***)</text>
<text x="73.90" y="843.00" font-size="18.6" font-weight="normal" fill="#000" stroke="#000" stroke-width="0.3" textLength="289.75" lengthAdjust="spacingAndGlyphs" style="white-space:pre">Breed R² = 0.14289 (p = 0.001  ***)</text>
<text x="728.70" y="793.70" font-size="18.8" font-weight="normal" fill="#000" stroke="#000" stroke-width="0.3" textLength="120.63" lengthAdjust="spacingAndGlyphs" >PERMANOVA</text>
<line x1="728.9" y1="795.9" x2="848.3" y2="795.9" stroke="#000" stroke-width="2.5"/>
<text x="729.70" y="815.90" font-size="18.6" font-weight="normal" fill="#000" stroke="#000" stroke-width="0.3" textLength="324.78" lengthAdjust="spacingAndGlyphs" style="white-space:pre">Treatment R² = 0.74679 (p = 0.001  ***)</text>
<text x="728.70" y="837.60" font-size="18.6" font-weight="normal" fill="#000" stroke="#000" stroke-width="0.3" textLength="291.15" lengthAdjust="spacingAndGlyphs" style="white-space:pre">Breed R² = 0.04443 (p = 0.001  ***)</text>
<text x="1351.60" y="76.90" font-size="37" font-weight="bold" fill="#000" stroke="#000" stroke-width="0.8" textLength="108.17" lengthAdjust="spacingAndGlyphs" >Breed</text>
<line x1="1352" y1="81.2" x2="1459" y2="81.2" stroke="#000" stroke-width="2.6"/>
<circle cx="1372.9" cy="113.6" r="22.3" fill="#A05252"/>
<text x="1398.80" y="123.00" font-size="31" font-weight="normal" fill="#000" stroke="#000" stroke-width="0.4" textLength="89.39" lengthAdjust="spacingAndGlyphs" >Broiler</text>
<circle cx="1374.1" cy="161.7" r="22.3" fill="#68C676"/>
<text x="1399.90" y="170.90" font-size="31" font-weight="normal" fill="#000" stroke="#000" stroke-width="0.4" textLength="228.75" lengthAdjust="spacingAndGlyphs" >Black Australorp</text>
<circle cx="1374.6" cy="211.3" r="22.3" fill="#E5C4A6"/>
<text x="1402.00" y="220.00" font-size="31" font-weight="normal" fill="#000" stroke="#000" stroke-width="0.4" textLength="170.58" lengthAdjust="spacingAndGlyphs" >Naked Neck</text>
<circle cx="1375.1" cy="261.2" r="22.3" fill="#999999"/>
<text x="1403.80" y="272.00" font-size="31" font-weight="normal" fill="#000" stroke="#000" stroke-width="0.4" textLength="249.75" lengthAdjust="spacingAndGlyphs" >Rhode Island Red</text>
<circle cx="1376.1" cy="311.4" r="22.3" fill="#A6E2B9"/>
<text x="1404.90" y="321.10" font-size="31" font-weight="normal" fill="#000" stroke="#000" stroke-width="0.4" textLength="163.95" lengthAdjust="spacingAndGlyphs" >White Layer</text>
<text x="1349.10" y="416.90" font-size="37" font-weight="bold" fill="#000" stroke="#000" stroke-width="0.8" textLength="176.77" lengthAdjust="spacingAndGlyphs" >Treatment</text>
<line x1="1348" y1="421.5" x2="1527" y2="421.5" stroke="#000" stroke-width="2.8"/>
<polygon points="1375.6,429.1 1348.7,472.3 1402.3,472.3" fill="#000"/>
<text x="1406.80" y="471.50" font-size="31" font-weight="normal" fill="#000" stroke="#000" stroke-width="0.4" textLength="102.11" lengthAdjust="spacingAndGlyphs" >Control</text>
<path d="M1376.1 480.5V527.1M1353 503.4H1399.3M1357.5 484.8L1395 522M1357.5 522L1395 484.8" stroke="#000" stroke-width="2.6" fill="none"/>
<text x="1407.00" y="514.20" font-size="31" font-weight="normal" fill="#000" stroke="#000" stroke-width="0.4" textLength="78.67" lengthAdjust="spacingAndGlyphs" >Day 1</text>
<rect x="1354" y="533.4" width="42.8" height="41.6" fill="#000"/>
<text x="1404.00" y="564.60" font-size="31.5" font-weight="normal" fill="#000" stroke="#000" stroke-width="0.4" textLength="371.89" lengthAdjust="spacingAndGlyphs" >Non Vaccinated Challenge</text>
<polygon points="1378.6,581.3 1403.1,605.2 1378.6,629.4 1354.4,605.2" fill="#000"/>
<text x="1408.80" y="615.70" font-size="31" font-weight="normal" fill="#000" stroke="#000" stroke-width="0.4" textLength="152.30" lengthAdjust="spacingAndGlyphs" >Vaccinated</text>
<circle cx="1377.4" cy="657.6" r="23" fill="#000"/>
<text x="1408.80" y="668.00" font-size="31" font-weight="normal" fill="#000" stroke="#000" stroke-width="0.4" textLength="300.03" lengthAdjust="spacingAndGlyphs" >Vaccinated Challenge</text>
</svg></body></html>
